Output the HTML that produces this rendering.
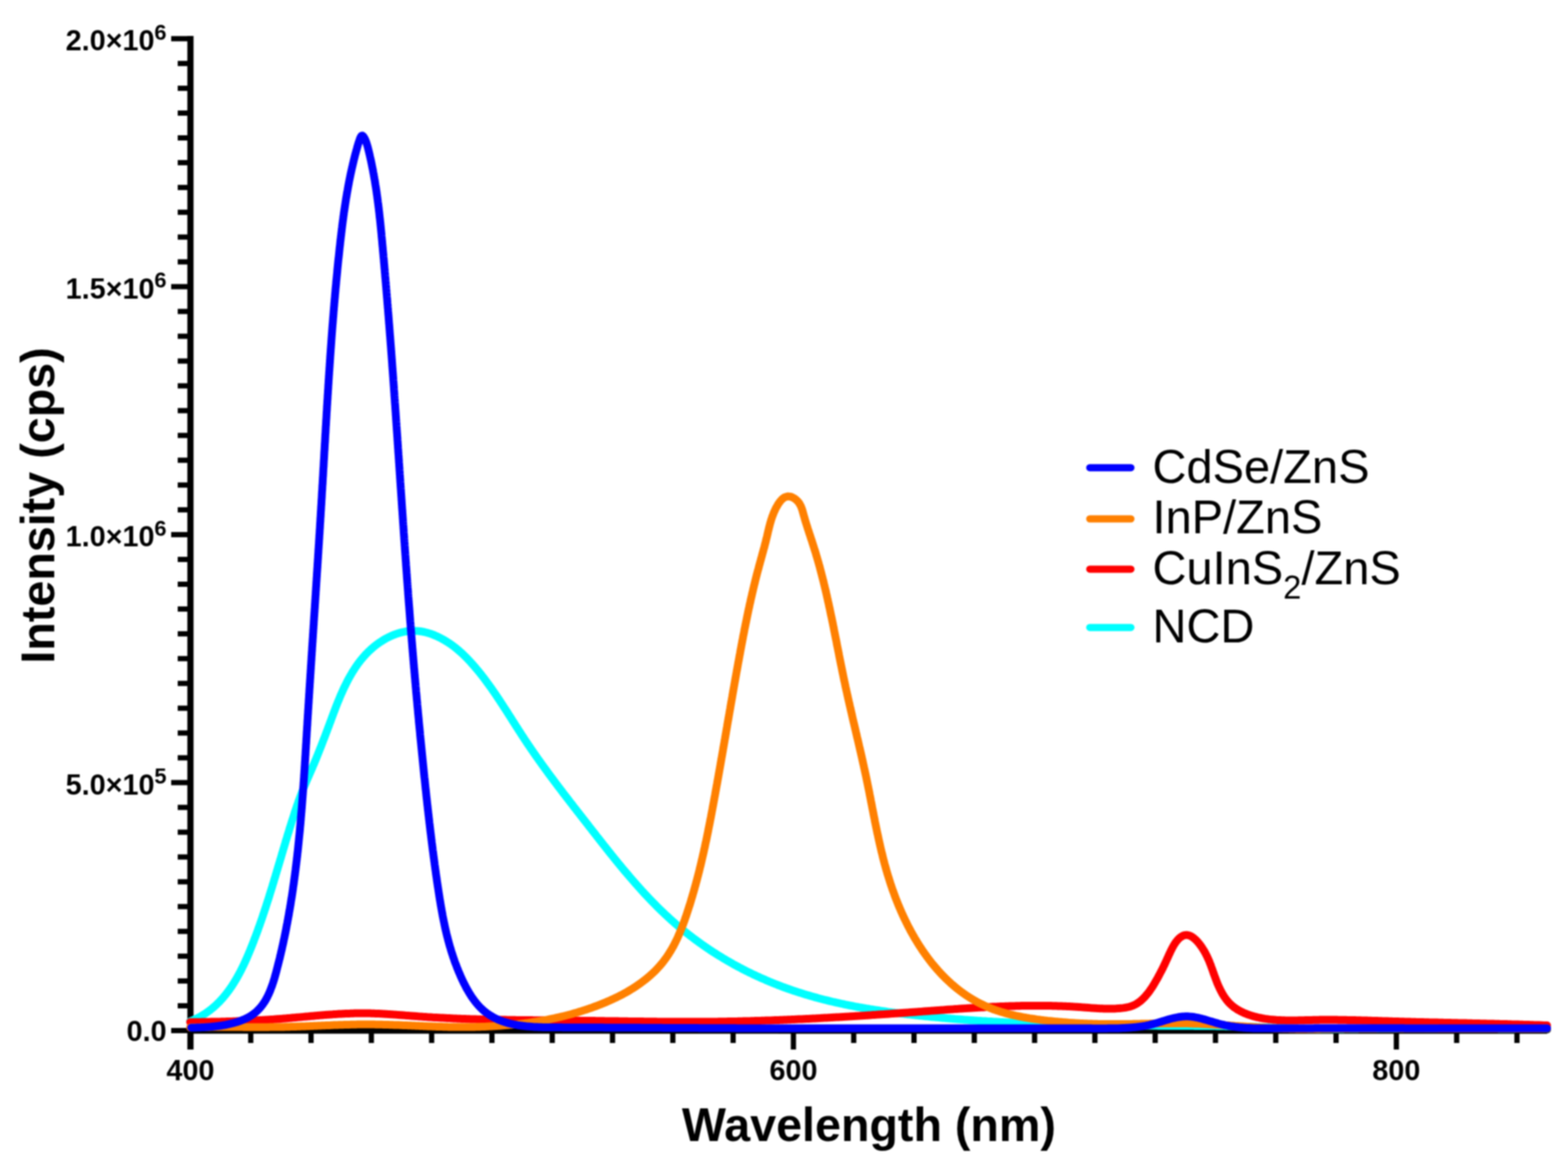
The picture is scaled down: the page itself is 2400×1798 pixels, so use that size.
<!DOCTYPE html>
<html><head><meta charset="utf-8"><title>Emission spectra</title>
<style>html,body{margin:0;padding:0;background:#fff;width:2400px;height:1798px;overflow:hidden}svg{display:block}#w{filter:blur(0.8px)}</style>
</head><body>
<div id="w">
<svg width="2400" height="1798" viewBox="0 0 2400 1798">
<style>
.tk{font-family:"Liberation Sans",Arial,sans-serif;font-weight:bold;font-size:44px;fill:#000}
.sup{font-size:33.5px}
.ttl{font-family:"Liberation Sans",Arial,sans-serif;font-weight:bold;font-size:71.4px;fill:#000}
.lg{font-family:"Liberation Sans",Arial,sans-serif;font-size:72px;fill:#000}
.sub{font-size:50px}
</style>
<rect width="2400" height="1798" fill="#fff"/>
<line x1="291.5" y1="55" x2="291.5" y2="1606" stroke="#000" stroke-width="9.5"/>
<line x1="291.5" y1="1577.0" x2="2368" y2="1577.0" stroke="#000" stroke-width="9.5"/>
<line x1="262" y1="1577.00" x2="291.5" y2="1577.00" stroke="#000" stroke-width="8"/>
<line x1="272" y1="1539.06" x2="291.5" y2="1539.06" stroke="#000" stroke-width="8"/>
<line x1="272" y1="1501.11" x2="291.5" y2="1501.11" stroke="#000" stroke-width="8"/>
<line x1="272" y1="1463.16" x2="291.5" y2="1463.16" stroke="#000" stroke-width="8"/>
<line x1="272" y1="1425.22" x2="291.5" y2="1425.22" stroke="#000" stroke-width="8"/>
<line x1="272" y1="1387.28" x2="291.5" y2="1387.28" stroke="#000" stroke-width="8"/>
<line x1="272" y1="1349.33" x2="291.5" y2="1349.33" stroke="#000" stroke-width="8"/>
<line x1="272" y1="1311.38" x2="291.5" y2="1311.38" stroke="#000" stroke-width="8"/>
<line x1="272" y1="1273.44" x2="291.5" y2="1273.44" stroke="#000" stroke-width="8"/>
<line x1="272" y1="1235.49" x2="291.5" y2="1235.49" stroke="#000" stroke-width="8"/>
<line x1="262" y1="1197.55" x2="291.5" y2="1197.55" stroke="#000" stroke-width="8"/>
<line x1="272" y1="1159.61" x2="291.5" y2="1159.61" stroke="#000" stroke-width="8"/>
<line x1="272" y1="1121.66" x2="291.5" y2="1121.66" stroke="#000" stroke-width="8"/>
<line x1="272" y1="1083.71" x2="291.5" y2="1083.71" stroke="#000" stroke-width="8"/>
<line x1="272" y1="1045.77" x2="291.5" y2="1045.77" stroke="#000" stroke-width="8"/>
<line x1="272" y1="1007.83" x2="291.5" y2="1007.83" stroke="#000" stroke-width="8"/>
<line x1="272" y1="969.88" x2="291.5" y2="969.88" stroke="#000" stroke-width="8"/>
<line x1="272" y1="931.93" x2="291.5" y2="931.93" stroke="#000" stroke-width="8"/>
<line x1="272" y1="893.99" x2="291.5" y2="893.99" stroke="#000" stroke-width="8"/>
<line x1="272" y1="856.04" x2="291.5" y2="856.04" stroke="#000" stroke-width="8"/>
<line x1="262" y1="818.10" x2="291.5" y2="818.10" stroke="#000" stroke-width="8"/>
<line x1="272" y1="780.15" x2="291.5" y2="780.15" stroke="#000" stroke-width="8"/>
<line x1="272" y1="742.21" x2="291.5" y2="742.21" stroke="#000" stroke-width="8"/>
<line x1="272" y1="704.26" x2="291.5" y2="704.26" stroke="#000" stroke-width="8"/>
<line x1="272" y1="666.32" x2="291.5" y2="666.32" stroke="#000" stroke-width="8"/>
<line x1="272" y1="628.38" x2="291.5" y2="628.38" stroke="#000" stroke-width="8"/>
<line x1="272" y1="590.43" x2="291.5" y2="590.43" stroke="#000" stroke-width="8"/>
<line x1="272" y1="552.48" x2="291.5" y2="552.48" stroke="#000" stroke-width="8"/>
<line x1="272" y1="514.54" x2="291.5" y2="514.54" stroke="#000" stroke-width="8"/>
<line x1="272" y1="476.59" x2="291.5" y2="476.59" stroke="#000" stroke-width="8"/>
<line x1="262" y1="438.65" x2="291.5" y2="438.65" stroke="#000" stroke-width="8"/>
<line x1="272" y1="400.70" x2="291.5" y2="400.70" stroke="#000" stroke-width="8"/>
<line x1="272" y1="362.76" x2="291.5" y2="362.76" stroke="#000" stroke-width="8"/>
<line x1="272" y1="324.81" x2="291.5" y2="324.81" stroke="#000" stroke-width="8"/>
<line x1="272" y1="286.87" x2="291.5" y2="286.87" stroke="#000" stroke-width="8"/>
<line x1="272" y1="248.92" x2="291.5" y2="248.92" stroke="#000" stroke-width="8"/>
<line x1="272" y1="210.98" x2="291.5" y2="210.98" stroke="#000" stroke-width="8"/>
<line x1="272" y1="173.04" x2="291.5" y2="173.04" stroke="#000" stroke-width="8"/>
<line x1="272" y1="135.09" x2="291.5" y2="135.09" stroke="#000" stroke-width="8"/>
<line x1="272" y1="97.14" x2="291.5" y2="97.14" stroke="#000" stroke-width="8"/>
<line x1="262" y1="59.20" x2="291.5" y2="59.20" stroke="#000" stroke-width="8"/>
<line x1="291.50" y1="1577.0" x2="291.50" y2="1606" stroke="#000" stroke-width="8"/>
<line x1="383.79" y1="1577.0" x2="383.79" y2="1596" stroke="#000" stroke-width="8"/>
<line x1="476.08" y1="1577.0" x2="476.08" y2="1596" stroke="#000" stroke-width="8"/>
<line x1="568.37" y1="1577.0" x2="568.37" y2="1596" stroke="#000" stroke-width="8"/>
<line x1="660.66" y1="1577.0" x2="660.66" y2="1596" stroke="#000" stroke-width="8"/>
<line x1="752.95" y1="1577.0" x2="752.95" y2="1596" stroke="#000" stroke-width="8"/>
<line x1="845.24" y1="1577.0" x2="845.24" y2="1596" stroke="#000" stroke-width="8"/>
<line x1="937.53" y1="1577.0" x2="937.53" y2="1596" stroke="#000" stroke-width="8"/>
<line x1="1029.82" y1="1577.0" x2="1029.82" y2="1596" stroke="#000" stroke-width="8"/>
<line x1="1122.11" y1="1577.0" x2="1122.11" y2="1596" stroke="#000" stroke-width="8"/>
<line x1="1214.40" y1="1577.0" x2="1214.40" y2="1606" stroke="#000" stroke-width="8"/>
<line x1="1306.69" y1="1577.0" x2="1306.69" y2="1596" stroke="#000" stroke-width="8"/>
<line x1="1398.98" y1="1577.0" x2="1398.98" y2="1596" stroke="#000" stroke-width="8"/>
<line x1="1491.27" y1="1577.0" x2="1491.27" y2="1596" stroke="#000" stroke-width="8"/>
<line x1="1583.56" y1="1577.0" x2="1583.56" y2="1596" stroke="#000" stroke-width="8"/>
<line x1="1675.85" y1="1577.0" x2="1675.85" y2="1596" stroke="#000" stroke-width="8"/>
<line x1="1768.14" y1="1577.0" x2="1768.14" y2="1596" stroke="#000" stroke-width="8"/>
<line x1="1860.43" y1="1577.0" x2="1860.43" y2="1596" stroke="#000" stroke-width="8"/>
<line x1="1952.72" y1="1577.0" x2="1952.72" y2="1596" stroke="#000" stroke-width="8"/>
<line x1="2045.01" y1="1577.0" x2="2045.01" y2="1596" stroke="#000" stroke-width="8"/>
<line x1="2137.30" y1="1577.0" x2="2137.30" y2="1606" stroke="#000" stroke-width="8"/>
<line x1="2229.59" y1="1577.0" x2="2229.59" y2="1596" stroke="#000" stroke-width="8"/>
<line x1="2321.88" y1="1577.0" x2="2321.88" y2="1596" stroke="#000" stroke-width="8"/>
<path d="M291.0,1574.7 L293.0,1574.7 L295.0,1574.7 L297.0,1574.7 L299.0,1574.7 L301.0,1574.7 L303.0,1574.7 L305.0,1574.7 L307.0,1574.7 L309.0,1574.7 L311.0,1574.7 L313.0,1574.7 L315.0,1574.7 L317.0,1574.7 L319.0,1574.7 L321.0,1574.7 L323.0,1574.7 L325.0,1574.7 L327.0,1574.7 L329.0,1574.7 L331.0,1574.7 L333.0,1574.7 L335.0,1574.7 L337.0,1574.7 L339.0,1574.7 L341.0,1574.7 L343.0,1574.7 L345.0,1574.7 L347.0,1574.7 L349.0,1574.7 L351.0,1574.7 L353.0,1574.7 L355.0,1574.7 L357.0,1574.7 L359.0,1574.7 L361.0,1574.7 L363.0,1574.7 L365.0,1574.7 L367.0,1574.7 L369.0,1574.7 L371.0,1574.7 L373.0,1574.7 L375.0,1574.7 L377.0,1574.7 L379.0,1574.7 L381.0,1574.7 L383.0,1574.7 L384.9,1574.7 L386.9,1574.7 L388.9,1574.7 L390.9,1574.7 L392.9,1574.7 L394.9,1574.7 L396.9,1574.7 L398.9,1574.7 L400.9,1574.7 L402.9,1574.7 L404.9,1574.7 L406.9,1574.7 L408.9,1574.7 L410.9,1574.7 L412.9,1574.7 L414.9,1574.7 L416.9,1574.7 L418.9,1574.7 L420.9,1574.7 L422.9,1574.7 L424.9,1574.7 L426.9,1574.7 L428.9,1574.7 L430.9,1574.7 L432.9,1574.7 L434.9,1574.7 L436.9,1574.7 L438.9,1574.7 L440.9,1574.7 L442.9,1574.7 L444.9,1574.7 L446.9,1574.7 L448.9,1574.7 L450.9,1574.7 L452.9,1574.7 L454.9,1574.8 L456.9,1574.8 L458.9,1574.8 L460.9,1574.8 L462.9,1574.8 L464.9,1574.8 L466.9,1574.8 L468.9,1574.8 L470.9,1574.8 L472.9,1574.8 L474.9,1574.8 L476.9,1574.8 L478.9,1574.8 L480.9,1574.8 L482.9,1574.8 L484.9,1574.8 L486.9,1574.8 L488.9,1574.8 L490.9,1574.8 L492.9,1574.8 L494.9,1574.8 L496.9,1574.8 L498.9,1574.8 L500.9,1574.8 L502.9,1574.8 L504.9,1574.8 L506.9,1574.8 L508.9,1574.8 L510.9,1574.8 L512.9,1574.8 L514.9,1574.8 L516.9,1574.8 L518.9,1574.8 L520.9,1574.8 L522.9,1574.8 L524.9,1574.8 L526.9,1574.8 L528.9,1574.8 L530.9,1574.8 L532.9,1574.8 L534.8,1574.8 L536.8,1574.8 L538.8,1574.8 L540.8,1574.8 L542.8,1574.8 L544.8,1574.8 L546.8,1574.8 L548.8,1574.8 L550.8,1574.8 L552.8,1574.8 L554.8,1574.8 L556.8,1574.8 L558.8,1574.8 L560.8,1574.8 L562.8,1574.8 L564.8,1574.8 L566.8,1574.8 L568.8,1574.8 L570.8,1574.8 L572.8,1574.8 L574.8,1574.8 L576.8,1574.8 L578.8,1574.8 L580.8,1574.8 L582.8,1574.8 L584.8,1574.8 L586.8,1574.8 L588.8,1574.8 L590.8,1574.9 L592.8,1574.9 L594.8,1574.9 L596.8,1574.9 L598.8,1574.9 L600.8,1574.9 L602.8,1574.9 L604.8,1574.9 L606.8,1574.9 L608.8,1574.9 L610.8,1574.9 L612.8,1574.9 L614.8,1574.9 L616.8,1574.9 L618.8,1574.9 L620.8,1574.9 L622.8,1574.9 L624.8,1574.9 L626.8,1574.9 L628.8,1574.9 L630.8,1574.9 L632.8,1574.9 L634.8,1574.9 L636.8,1574.9 L638.8,1574.9 L640.8,1574.9 L642.8,1574.9 L644.8,1574.9 L646.8,1574.9 L648.8,1574.9 L650.8,1574.9 L652.8,1574.9 L654.8,1574.9 L656.8,1574.9 L658.8,1574.9 L660.8,1574.9 L662.8,1574.9 L664.8,1574.9 L666.8,1574.9 L668.8,1574.9 L670.8,1574.9 L672.8,1574.9 L674.8,1574.9 L676.8,1574.9 L678.8,1574.9 L680.8,1574.9 L682.8,1574.9 L684.8,1574.9 L686.8,1574.9 L688.8,1574.9 L690.8,1574.9 L692.8,1574.9 L694.8,1574.9 L696.8,1574.9 L698.7,1574.9 L700.7,1574.9 L702.7,1574.9 L704.7,1574.9 L706.7,1574.9 L708.7,1574.9 L710.7,1574.9 L712.7,1574.9 L714.7,1575.0 L716.7,1575.0 L718.7,1575.0 L720.7,1575.0 L722.7,1575.0 L724.7,1575.0 L726.7,1575.0 L728.7,1575.0 L730.7,1575.0 L732.7,1575.0 L734.7,1575.0 L736.7,1575.0 L738.7,1575.0 L740.7,1575.0 L742.7,1575.0 L744.7,1575.0 L746.7,1575.0 L748.7,1575.0 L750.7,1575.0 L752.7,1575.0 L754.7,1575.0 L756.7,1575.0 L758.7,1575.0 L760.7,1575.0 L762.7,1575.0 L764.7,1575.0 L766.7,1575.0 L768.7,1575.0 L770.7,1575.0 L772.7,1575.0 L774.7,1575.0 L776.7,1575.0 L778.7,1575.0 L780.7,1575.0 L782.7,1575.0 L784.7,1575.0 L786.7,1575.0 L788.7,1575.0 L790.7,1575.0 L792.7,1575.0 L794.7,1575.0 L796.7,1575.0 L798.7,1575.0 L800.7,1575.0 L802.7,1575.0 L804.7,1575.0 L806.7,1575.0 L808.7,1575.0 L810.7,1575.0 L812.7,1575.0 L814.7,1575.0 L816.7,1575.0 L818.7,1575.0 L820.7,1575.0 L822.7,1575.0 L824.7,1575.0 L826.7,1575.0 L828.7,1575.0 L830.7,1575.0 L832.7,1575.1 L834.7,1575.1 L836.7,1575.1 L838.7,1575.1 L840.7,1575.1 L842.7,1575.1 L844.7,1575.1 L846.7,1575.1 L848.7,1575.1 L850.7,1575.1 L852.7,1575.1 L854.7,1575.1 L856.7,1575.1 L858.7,1575.1 L860.7,1575.1 L862.7,1575.1 L864.7,1575.1 L866.7,1575.1 L868.7,1575.1 L870.7,1575.1 L872.7,1575.1 L874.7,1575.1 L876.7,1575.1 L878.7,1575.1 L880.7,1575.1 L882.7,1575.1 L884.6,1575.1 L886.6,1575.1 L888.6,1575.1 L890.6,1575.1 L892.6,1575.1 L894.6,1575.1 L896.6,1575.1 L898.6,1575.1 L900.6,1575.1 L902.6,1575.1 L904.6,1575.1 L906.6,1575.1 L908.6,1575.1 L910.6,1575.1 L912.6,1575.1 L914.6,1575.1 L916.6,1575.1 L918.6,1575.1 L920.6,1575.1 L922.6,1575.1 L924.6,1575.1 L926.6,1575.1 L928.6,1575.1 L930.6,1575.1 L932.6,1575.1 L934.6,1575.1 L936.6,1575.1 L938.6,1575.1 L940.6,1575.1 L942.6,1575.1 L944.6,1575.1 L946.6,1575.1 L948.6,1575.2 L950.6,1575.2 L952.6,1575.2 L954.6,1575.2 L956.6,1575.2 L958.6,1575.2 L960.6,1575.2 L962.6,1575.2 L964.6,1575.2 L966.6,1575.2 L968.6,1575.2 L970.6,1575.2 L972.6,1575.2 L974.6,1575.2 L976.6,1575.2 L978.6,1575.2 L980.6,1575.2 L982.6,1575.2 L984.6,1575.2 L986.6,1575.2 L988.6,1575.2 L990.6,1575.2 L992.6,1575.2 L994.6,1575.2 L996.6,1575.2 L998.6,1575.2 L1000.6,1575.2 L1002.6,1575.2 L1004.6,1575.2 L1006.6,1575.2 L1008.6,1575.2 L1010.6,1575.2 L1012.6,1575.2 L1014.6,1575.2 L1016.6,1575.2 L1018.6,1575.2 L1020.6,1575.2 L1022.6,1575.2 L1024.6,1575.2 L1026.6,1575.2 L1028.6,1575.2 L1030.6,1575.2 L1032.6,1575.2 L1034.6,1575.2 L1036.6,1575.2 L1038.6,1575.2 L1040.6,1575.2 L1042.6,1575.2 L1044.6,1575.2 L1046.6,1575.2 L1048.6,1575.2 L1050.6,1575.2 L1052.6,1575.2 L1054.6,1575.2 L1056.6,1575.2 L1058.6,1575.2 L1060.6,1575.2 L1062.6,1575.2 L1064.6,1575.2 L1066.6,1575.3 L1068.6,1575.3 L1070.6,1575.3 L1072.6,1575.3 L1074.6,1575.3 L1076.6,1575.3 L1078.6,1575.3 L1080.6,1575.3 L1082.6,1575.3 L1084.6,1575.3 L1086.6,1575.3 L1088.6,1575.3 L1090.5,1575.3 L1092.5,1575.3 L1094.5,1575.3 L1096.5,1575.3 L1098.5,1575.3 L1100.5,1575.3 L1102.5,1575.3 L1104.5,1575.3 L1106.5,1575.3 L1108.5,1575.3 L1110.5,1575.3 L1112.5,1575.3 L1114.5,1575.3 L1116.5,1575.3 L1118.5,1575.3 L1120.5,1575.3 L1122.5,1575.3 L1124.5,1575.3 L1126.5,1575.3 L1128.5,1575.3 L1130.5,1575.3 L1132.5,1575.3 L1134.5,1575.3 L1136.5,1575.3 L1138.5,1575.3 L1140.5,1575.3 L1142.5,1575.3 L1144.5,1575.3 L1146.5,1575.3 L1148.5,1575.3 L1150.5,1575.3 L1152.5,1575.3 L1154.5,1575.3 L1156.5,1575.3 L1158.5,1575.3 L1160.5,1575.3 L1162.5,1575.3 L1164.5,1575.3 L1166.5,1575.3 L1168.5,1575.3 L1170.5,1575.3 L1172.5,1575.3 L1174.5,1575.3 L1176.5,1575.3 L1178.5,1575.3 L1180.5,1575.3 L1182.5,1575.3 L1184.5,1575.3 L1186.5,1575.3 L1188.5,1575.3 L1190.5,1575.3 L1192.5,1575.4 L1194.5,1575.4 L1196.5,1575.4 L1198.5,1575.4 L1200.5,1575.4 L1202.5,1575.4 L1204.5,1575.4 L1206.5,1575.4 L1208.5,1575.4 L1210.5,1575.4 L1212.5,1575.4 L1214.5,1575.4 L1216.5,1575.4 L1218.5,1575.4 L1220.5,1575.4 L1222.5,1575.4 L1224.5,1575.4 L1226.5,1575.4 L1228.5,1575.4 L1230.5,1575.4 L1232.5,1575.4 L1234.5,1575.4 L1236.5,1575.4 L1238.5,1575.4 L1240.5,1575.4 L1242.5,1575.4 L1244.5,1575.4 L1246.5,1575.4 L1248.5,1575.4 L1250.5,1575.4 L1252.5,1575.4 L1254.5,1575.4 L1256.5,1575.4 L1258.5,1575.4 L1260.5,1575.4 L1262.5,1575.4 L1264.5,1575.4 L1266.5,1575.4 L1268.5,1575.4 L1270.5,1575.4 L1272.5,1575.4 L1274.5,1575.4 L1276.5,1575.4 L1278.5,1575.4 L1280.5,1575.4 L1282.5,1575.4 L1284.5,1575.4 L1286.5,1575.4 L1288.5,1575.4 L1290.5,1575.4 L1292.5,1575.4 L1294.5,1575.4 L1296.5,1575.4 L1298.5,1575.4 L1300.5,1575.4 L1302.5,1575.4 L1304.5,1575.4 L1306.5,1575.4 L1308.5,1575.4 L1310.5,1575.4 L1312.5,1575.4 L1314.5,1575.4 L1316.5,1575.4 L1318.4,1575.4 L1320.4,1575.4 L1322.4,1575.4 L1324.4,1575.4 L1326.4,1575.4 L1328.4,1575.4 L1330.4,1575.5 L1332.4,1575.5 L1334.4,1575.5 L1336.4,1575.5 L1338.4,1575.5 L1340.4,1575.5 L1342.4,1575.5 L1344.4,1575.5 L1346.4,1575.5 L1348.4,1575.5 L1350.4,1575.5 L1352.4,1575.5 L1354.4,1575.5 L1356.4,1575.5 L1358.4,1575.5 L1360.4,1575.5 L1362.4,1575.5 L1364.4,1575.5 L1366.4,1575.5 L1368.4,1575.5 L1370.4,1575.5 L1372.4,1575.5 L1374.4,1575.5 L1376.4,1575.5 L1378.4,1575.5 L1380.4,1575.5 L1382.4,1575.5 L1384.4,1575.5 L1386.4,1575.5 L1388.4,1575.5 L1390.4,1575.5 L1392.4,1575.5 L1394.4,1575.5 L1396.4,1575.5 L1398.4,1575.5 L1400.4,1575.5 L1402.4,1575.5 L1404.4,1575.5 L1406.4,1575.5 L1408.4,1575.5 L1410.4,1575.5 L1412.4,1575.5 L1414.4,1575.5 L1416.4,1575.5 L1418.4,1575.5 L1420.4,1575.5 L1422.4,1575.5 L1424.4,1575.5 L1426.4,1575.5 L1428.4,1575.5 L1430.4,1575.5 L1432.4,1575.5 L1434.4,1575.5 L1436.4,1575.5 L1438.4,1575.5 L1440.4,1575.5 L1442.4,1575.5 L1444.4,1575.5 L1446.4,1575.5 L1448.4,1575.5 L1450.4,1575.5 L1452.4,1575.5 L1454.4,1575.5 L1456.4,1575.5 L1458.4,1575.5 L1460.4,1575.5 L1462.4,1575.5 L1464.4,1575.5 L1466.4,1575.5 L1468.4,1575.5 L1470.4,1575.5 L1472.4,1575.5 L1474.4,1575.5 L1476.4,1575.5 L1478.4,1575.5 L1480.4,1575.5 L1482.4,1575.5 L1484.4,1575.5 L1486.4,1575.5 L1488.4,1575.5 L1490.4,1575.5 L1492.4,1575.5 L1494.4,1575.5 L1496.4,1575.5 L1498.4,1575.5 L1500.4,1575.5 L1502.4,1575.5 L1504.4,1575.6 L1506.4,1575.6 L1508.4,1575.6 L1510.4,1575.6 L1512.4,1575.6 L1514.4,1575.6 L1516.4,1575.6 L1518.4,1575.6 L1520.4,1575.6 L1522.4,1575.6 L1524.4,1575.6 L1526.4,1575.6 L1528.4,1575.6 L1530.4,1575.6 L1532.4,1575.6 L1534.4,1575.6 L1536.4,1575.6 L1538.4,1575.6 L1540.4,1575.6 L1542.4,1575.6 L1544.4,1575.6 L1546.4,1575.6 L1548.4,1575.6 L1550.4,1575.6 L1552.4,1575.6 L1554.4,1575.6 L1556.4,1575.6 L1558.4,1575.6 L1560.3,1575.6 L1562.3,1575.6 L1564.3,1575.6 L1566.3,1575.6 L1568.3,1575.6 L1570.3,1575.6 L1572.3,1575.6 L1574.3,1575.6 L1576.3,1575.6 L1578.3,1575.6 L1580.3,1575.6 L1582.3,1575.6 L1584.3,1575.6 L1586.3,1575.6 L1588.3,1575.6 L1590.3,1575.6 L1592.3,1575.6 L1594.3,1575.6 L1596.3,1575.6 L1598.3,1575.6 L1600.3,1575.6 L1602.3,1575.6 L1604.3,1575.6 L1606.3,1575.6 L1608.3,1575.6 L1610.3,1575.6 L1612.3,1575.6 L1614.3,1575.6 L1616.3,1575.6 L1618.3,1575.6 L1620.3,1575.6 L1622.3,1575.6 L1624.3,1575.6 L1626.3,1575.6 L1628.3,1575.6 L1630.3,1575.6 L1632.3,1575.6 L1634.3,1575.6 L1636.3,1575.6 L1638.3,1575.6 L1640.3,1575.6 L1642.3,1575.6 L1644.3,1575.6 L1646.3,1575.6 L1648.3,1575.6 L1650.3,1575.6 L1652.3,1575.6 L1654.3,1575.6 L1656.3,1575.6 L1658.3,1575.6 L1660.3,1575.6 L1662.3,1575.6 L1664.3,1575.6 L1666.3,1575.6 L1668.3,1575.6 L1670.3,1575.6 L1672.3,1575.6 L1674.3,1575.6 L1676.3,1575.6 L1678.3,1575.6 L1680.3,1575.6 L1682.3,1575.6 L1684.3,1575.6 L1686.3,1575.6 L1688.3,1575.6 L1690.3,1575.6 L1692.3,1575.6 L1694.3,1575.6 L1696.3,1575.6 L1698.3,1575.6 L1700.3,1575.6 L1702.3,1575.6 L1704.3,1575.6 L1706.3,1575.6 L1708.3,1575.6 L1710.3,1575.6 L1712.3,1575.6 L1714.3,1575.6 L1716.3,1575.6 L1718.3,1575.6 L1720.3,1575.6 L1722.3,1575.6 L1724.3,1575.6 L1726.3,1575.6 L1728.3,1575.6 L1730.3,1575.6 L1732.3,1575.6 L1734.3,1575.6 L1736.3,1575.6 L1738.3,1575.6 L1740.3,1575.6 L1742.3,1575.6 L1744.3,1575.6 L1746.3,1575.6 L1748.3,1575.6 L1750.3,1575.6 L1752.3,1575.6 L1754.3,1575.6 L1756.3,1575.6 L1758.3,1575.6 L1760.3,1575.6 L1762.3,1575.6 L1764.3,1575.6 L1766.3,1575.6 L1768.3,1575.6 L1770.3,1575.6 L1772.3,1575.6 L1774.3,1575.6 L1776.3,1575.6 L1778.3,1575.6 L1780.3,1575.6 L1782.3,1575.6 L1784.3,1575.6 L1786.3,1575.6 L1788.3,1575.6 L1790.3,1575.6 L1792.3,1575.6 L1794.3,1575.6 L1796.3,1575.6 L1798.3,1575.6 L1800.3,1575.6 L1802.3,1575.6 L1804.2,1575.6 L1806.2,1575.6 L1808.2,1575.6 L1810.2,1575.6 L1812.2,1575.6 L1814.2,1575.6 L1816.2,1575.6 L1818.2,1575.6 L1820.2,1575.6 L1822.2,1575.6 L1824.2,1575.6 L1826.2,1575.6 L1828.2,1575.6 L1830.2,1575.6 L1832.2,1575.6 L1834.2,1575.6 L1836.2,1575.6 L1838.2,1575.6 L1840.2,1575.6 L1842.2,1575.6 L1844.2,1575.6 L1846.2,1575.6 L1848.2,1575.6 L1850.2,1575.6 L1852.2,1575.6 L1854.2,1575.6 L1856.2,1575.6 L1858.2,1575.6 L1860.2,1575.6 L1862.2,1575.6 L1864.2,1575.6 L1866.2,1575.6 L1868.2,1575.6 L1870.2,1575.6 L1872.2,1575.6 L1874.2,1575.6 L1876.2,1575.6 L1878.2,1575.6 L1880.2,1575.6 L1882.2,1575.6 L1884.2,1575.6 L1886.2,1575.6 L1888.2,1575.6 L1890.2,1575.6 L1892.2,1575.6 L1894.2,1575.6 L1896.2,1575.6 L1898.2,1575.6 L1900.2,1575.6 L1902.2,1575.6 L1904.2,1575.6 L1906.2,1575.6 L1908.2,1575.6 L1910.2,1575.6 L1912.2,1575.6 L1914.2,1575.6 L1916.2,1575.6 L1918.2,1575.6 L1920.2,1575.6 L1922.2,1575.6 L1924.2,1575.6 L1926.2,1575.6 L1928.2,1575.6 L1930.2,1575.6 L1932.2,1575.6 L1934.2,1575.6 L1936.2,1575.6 L1938.2,1575.6 L1940.2,1575.6 L1942.2,1575.6 L1944.2,1575.6 L1946.2,1575.6 L1948.2,1575.6 L1950.2,1575.6 L1952.2,1575.6 L1954.2,1575.6 L1956.2,1575.6 L1958.2,1575.6 L1960.2,1575.6 L1962.2,1575.6 L1964.2,1575.6 L1966.2,1575.6 L1968.2,1575.6 L1970.2,1575.6 L1972.2,1575.6 L1974.2,1575.6 L1976.2,1575.6 L1978.2,1575.6 L1980.2,1575.6 L1982.2,1575.6 L1984.2,1575.6 L1986.2,1575.6 L1988.2,1575.6 L1990.2,1575.6 L1992.2,1575.6 L1994.2,1575.6 L1996.2,1575.6 L1998.2,1575.6 L2000.2,1575.6 L2002.2,1575.6 L2004.2,1575.6 L2006.2,1575.6 L2008.2,1575.6 L2010.2,1575.6 L2012.2,1575.6 L2014.2,1575.6 L2016.2,1575.6 L2018.2,1575.6 L2020.2,1575.6 L2022.2,1575.6 L2024.2,1575.6 L2026.2,1575.6 L2028.2,1575.6 L2030.2,1575.6 L2032.2,1575.6 L2034.2,1575.6 L2036.1,1575.6 L2038.1,1575.6 L2040.1,1575.6 L2042.1,1575.6 L2044.1,1575.6 L2046.1,1575.6 L2048.1,1575.6 L2050.1,1575.6 L2052.1,1575.6 L2054.1,1575.6 L2056.1,1575.6 L2058.1,1575.6 L2060.1,1575.6 L2062.1,1575.6 L2064.1,1575.6 L2066.1,1575.6 L2068.1,1575.6 L2070.1,1575.6 L2072.1,1575.6 L2074.1,1575.6 L2076.1,1575.6 L2078.1,1575.6 L2080.1,1575.6 L2082.1,1575.6 L2084.1,1575.6 L2086.1,1575.6 L2088.1,1575.6 L2090.1,1575.6 L2092.1,1575.6 L2094.1,1575.6 L2096.1,1575.5 L2098.1,1575.5 L2100.1,1575.5 L2102.1,1575.5 L2104.1,1575.5 L2106.1,1575.5 L2108.1,1575.5 L2110.1,1575.5 L2112.1,1575.5 L2114.1,1575.5 L2116.1,1575.5 L2118.1,1575.5 L2120.1,1575.5 L2122.1,1575.5 L2124.1,1575.5 L2126.1,1575.5 L2128.1,1575.5 L2130.1,1575.5 L2132.1,1575.5 L2134.1,1575.5 L2136.1,1575.5 L2138.1,1575.5 L2140.1,1575.5 L2142.1,1575.5 L2144.1,1575.5 L2146.1,1575.5 L2148.1,1575.5 L2150.1,1575.5 L2152.1,1575.5 L2154.1,1575.5 L2156.1,1575.5 L2158.1,1575.5 L2160.1,1575.5 L2162.1,1575.5 L2164.1,1575.5 L2166.1,1575.5 L2168.1,1575.5 L2170.1,1575.5 L2172.1,1575.5 L2174.1,1575.5 L2176.1,1575.5 L2178.1,1575.5 L2180.1,1575.5 L2182.1,1575.5 L2184.1,1575.5 L2186.1,1575.5 L2188.1,1575.5 L2190.1,1575.5 L2192.1,1575.5 L2194.1,1575.5 L2196.1,1575.5 L2198.1,1575.5 L2200.1,1575.5 L2202.1,1575.5 L2204.1,1575.5 L2206.1,1575.5 L2208.1,1575.5 L2210.1,1575.5 L2212.1,1575.5 L2214.1,1575.5 L2216.1,1575.5 L2218.1,1575.5 L2220.1,1575.5 L2222.1,1575.5 L2224.1,1575.5 L2226.1,1575.5 L2228.1,1575.4 L2230.1,1575.4 L2232.1,1575.4 L2234.1,1575.4 L2236.1,1575.4 L2238.1,1575.4 L2240.1,1575.4 L2242.1,1575.4 L2244.1,1575.4 L2246.1,1575.4 L2248.1,1575.4 L2250.0,1575.4 L2252.0,1575.4 L2254.0,1575.4 L2256.0,1575.4 L2258.0,1575.4 L2260.0,1575.4 L2262.0,1575.4 L2264.0,1575.4 L2266.0,1575.4 L2268.0,1575.4 L2270.0,1575.4 L2272.0,1575.4 L2274.0,1575.4 L2276.0,1575.4 L2278.0,1575.4 L2280.0,1575.4 L2282.0,1575.4 L2284.0,1575.4 L2286.0,1575.4 L2288.0,1575.4 L2290.0,1575.4 L2292.0,1575.4 L2294.0,1575.4 L2296.0,1575.4 L2298.0,1575.4 L2300.0,1575.4 L2302.0,1575.4 L2304.0,1575.4 L2306.0,1575.4 L2308.0,1575.4 L2310.0,1575.4 L2312.0,1575.4 L2314.0,1575.4 L2316.0,1575.4 L2318.0,1575.4 L2320.0,1575.4 L2322.0,1575.3 L2324.0,1575.3 L2326.0,1575.3 L2328.0,1575.3 L2330.0,1575.3 L2332.0,1575.3 L2334.0,1575.3 L2336.0,1575.3 L2338.0,1575.3 L2340.0,1575.3 L2342.0,1575.3 L2344.0,1575.3 L2346.0,1575.3 L2348.0,1575.3 L2350.0,1575.3 L2352.0,1575.3 L2354.0,1575.3 L2356.0,1575.3 L2358.0,1575.3 L2360.0,1575.3 L2362.0,1575.3 L2364.0,1575.3 L2366.0,1575.3 L2368.0,1575.3" fill="none" stroke="#000000" stroke-width="12" stroke-linecap="round" stroke-linejoin="round"/>
<path d="M291.0,1562.8 L292.9,1562.0 L294.9,1561.2 L296.8,1560.4 L298.6,1559.6 L300.5,1558.7 L302.3,1557.8 L304.1,1556.9 L305.9,1555.9 L307.6,1554.9 L309.3,1553.9 L311.0,1552.9 L312.7,1551.8 L314.4,1550.8 L316.0,1549.7 L317.6,1548.5 L319.2,1547.4 L320.8,1546.2 L322.3,1545.0 L323.9,1543.8 L325.4,1542.5 L326.9,1541.3 L328.3,1540.0 L329.8,1538.7 L331.2,1537.4 L332.6,1536.0 L334.0,1534.6 L335.4,1533.3 L336.7,1531.9 L338.1,1530.4 L339.4,1529.0 L340.7,1527.5 L342.0,1526.1 L343.2,1524.6 L344.5,1523.0 L345.7,1521.5 L346.9,1520.0 L348.1,1518.4 L349.3,1516.8 L350.5,1515.3 L351.6,1513.7 L352.7,1512.0 L353.9,1510.4 L355.0,1508.8 L356.0,1507.1 L357.1,1505.4 L358.2,1503.7 L359.2,1502.0 L360.3,1500.3 L361.3,1498.6 L362.3,1496.9 L363.3,1495.1 L364.3,1493.4 L365.2,1491.6 L366.2,1489.9 L367.1,1488.1 L368.1,1486.3 L369.0,1484.5 L369.9,1482.7 L370.8,1480.9 L371.7,1479.0 L372.6,1477.2 L373.5,1475.4 L374.3,1473.5 L375.2,1471.7 L376.0,1469.8 L376.9,1468.0 L377.7,1466.1 L378.5,1464.3 L379.3,1462.4 L380.1,1460.5 L380.9,1458.6 L381.7,1456.7 L382.5,1454.9 L383.2,1453.0 L384.0,1451.1 L384.8,1449.2 L385.5,1447.3 L386.3,1445.4 L387.0,1443.5 L387.8,1441.6 L388.5,1439.7 L389.2,1437.8 L389.9,1435.9 L390.7,1434.0 L391.4,1432.2 L392.1,1430.3 L392.8,1428.4 L393.5,1426.5 L394.2,1424.6 L394.9,1422.7 L395.5,1420.8 L396.2,1418.9 L396.9,1417.0 L397.6,1415.1 L398.2,1413.2 L398.9,1411.3 L399.6,1409.4 L400.2,1407.5 L400.9,1405.6 L401.5,1403.7 L402.2,1401.8 L402.8,1399.9 L403.4,1398.0 L404.1,1396.1 L404.7,1394.2 L405.3,1392.3 L406.0,1390.5 L406.6,1388.6 L407.2,1386.7 L407.8,1384.8 L408.4,1382.9 L409.0,1381.0 L409.6,1379.1 L410.3,1377.2 L410.9,1375.3 L411.5,1373.4 L412.1,1371.5 L412.6,1369.6 L413.2,1367.7 L413.8,1365.8 L414.4,1363.9 L415.0,1362.0 L415.6,1360.1 L416.2,1358.2 L416.8,1356.3 L417.3,1354.4 L417.9,1352.5 L418.5,1350.6 L419.1,1348.7 L419.6,1346.8 L420.2,1344.9 L420.8,1343.0 L421.4,1341.1 L421.9,1339.2 L422.5,1337.3 L423.1,1335.4 L423.6,1333.5 L424.2,1331.6 L424.8,1329.7 L425.3,1327.8 L425.9,1325.9 L426.5,1324.0 L427.0,1322.1 L427.6,1320.2 L428.2,1318.3 L428.7,1316.4 L429.3,1314.5 L429.9,1312.6 L430.4,1310.7 L431.0,1308.8 L431.5,1306.9 L432.1,1305.0 L432.7,1303.1 L433.2,1301.2 L433.8,1299.3 L434.4,1297.4 L435.0,1295.5 L435.5,1293.6 L436.1,1291.7 L436.7,1289.8 L437.2,1287.8 L437.8,1285.9 L438.4,1284.0 L439.0,1282.1 L439.5,1280.2 L440.1,1278.3 L440.7,1276.4 L441.3,1274.5 L441.9,1272.6 L442.5,1270.7 L443.0,1268.8 L443.6,1266.9 L444.2,1265.0 L444.8,1263.1 L445.4,1261.2 L446.0,1259.3 L446.6,1257.4 L447.2,1255.5 L447.8,1253.6 L448.5,1251.7 L449.1,1249.8 L449.7,1247.9 L450.3,1246.0 L450.9,1244.0 L451.5,1242.1 L452.2,1240.2 L452.8,1238.3 L453.5,1236.4 L454.1,1234.5 L454.7,1232.6 L455.4,1230.7 L456.1,1228.8 L456.7,1226.9 L457.4,1225.0 L458.1,1223.2 L458.8,1221.3 L459.5,1219.4 L460.2,1217.5 L460.9,1215.6 L461.6,1213.7 L462.3,1211.9 L463.0,1210.0 L463.8,1208.1 L464.5,1206.2 L465.3,1204.4 L466.0,1202.5 L466.8,1200.7 L467.6,1198.8 L468.4,1197.0 L469.2,1195.1 L470.0,1193.3 L470.8,1191.4 L471.6,1189.6 L472.4,1187.8 L473.2,1185.9 L474.0,1184.1 L474.8,1182.3 L475.6,1180.4 L476.4,1178.6 L477.2,1176.8 L478.0,1175.0 L478.7,1173.1 L479.5,1171.3 L480.3,1169.5 L481.1,1167.7 L481.8,1165.8 L482.6,1164.0 L483.3,1162.2 L484.1,1160.4 L484.8,1158.5 L485.6,1156.7 L486.3,1154.9 L487.0,1153.1 L487.8,1151.2 L488.5,1149.4 L489.2,1147.6 L489.9,1145.7 L490.7,1143.9 L491.4,1142.1 L492.1,1140.2 L492.8,1138.4 L493.5,1136.6 L494.2,1134.7 L494.9,1132.9 L495.6,1131.0 L496.4,1129.2 L497.1,1127.4 L497.8,1125.5 L498.5,1123.7 L499.2,1121.8 L499.9,1119.9 L500.6,1118.1 L501.3,1116.2 L502.0,1114.3 L502.7,1112.5 L503.4,1110.6 L504.1,1108.7 L504.8,1106.8 L505.5,1105.0 L506.2,1103.1 L506.9,1101.2 L507.6,1099.3 L508.3,1097.4 L509.0,1095.5 L509.7,1093.6 L510.4,1091.7 L511.1,1089.8 L511.9,1087.9 L512.6,1086.0 L513.3,1084.1 L514.0,1082.2 L514.8,1080.3 L515.5,1078.4 L516.3,1076.5 L517.0,1074.6 L517.8,1072.8 L518.6,1070.9 L519.4,1069.0 L520.1,1067.1 L520.9,1065.3 L521.7,1063.4 L522.5,1061.5 L523.4,1059.7 L524.2,1057.8 L525.0,1056.0 L525.9,1054.1 L526.7,1052.3 L527.6,1050.5 L528.5,1048.7 L529.4,1046.9 L530.3,1045.1 L531.2,1043.3 L532.1,1041.5 L533.1,1039.7 L534.0,1037.9 L535.0,1036.2 L536.0,1034.4 L537.0,1032.7 L538.0,1031.0 L539.0,1029.3 L540.0,1027.6 L541.1,1025.9 L542.2,1024.2 L543.2,1022.6 L544.3,1020.9 L545.5,1019.3 L546.6,1017.7 L547.7,1016.0 L548.9,1014.5 L550.1,1012.9 L551.3,1011.3 L552.5,1009.8 L553.8,1008.2 L555.1,1006.7 L556.3,1005.2 L557.7,1003.8 L559.0,1002.3 L560.3,1000.8 L561.7,999.4 L563.1,998.0 L564.5,996.6 L565.9,995.3 L567.4,993.9 L568.9,992.6 L570.4,991.3 L571.9,990.0 L573.5,988.7 L575.0,987.5 L576.6,986.3 L578.2,985.1 L579.9,983.9 L581.5,982.8 L583.2,981.7 L584.9,980.6 L586.6,979.5 L588.3,978.5 L590.0,977.5 L591.8,976.5 L593.6,975.6 L595.3,974.7 L597.1,973.9 L598.9,973.0 L600.8,972.3 L602.6,971.5 L604.5,970.8 L606.3,970.1 L608.2,969.5 L610.1,968.9 L612.0,968.4 L613.9,967.8 L615.8,967.4 L617.7,967.0 L619.6,966.6 L621.6,966.3 L623.5,966.0 L625.4,965.8 L627.4,965.6 L629.3,965.4 L631.3,965.4 L633.3,965.3 L635.2,965.4 L637.2,965.4 L639.2,965.6 L641.1,965.8 L643.1,966.0 L645.1,966.3 L647.0,966.6 L649.0,967.0 L651.0,967.5 L652.9,968.0 L654.9,968.5 L656.8,969.1 L658.8,969.7 L660.7,970.4 L662.7,971.1 L664.6,971.9 L666.5,972.7 L668.4,973.5 L670.3,974.4 L672.1,975.3 L674.0,976.2 L675.9,977.2 L677.7,978.2 L679.5,979.2 L681.3,980.3 L683.1,981.4 L684.8,982.5 L686.6,983.6 L688.3,984.7 L690.0,985.9 L691.7,987.1 L693.3,988.3 L694.9,989.5 L696.6,990.8 L698.1,992.0 L699.7,993.3 L701.2,994.6 L702.7,995.9 L704.2,997.2 L705.7,998.5 L707.2,999.9 L708.6,1001.2 L710.0,1002.6 L711.4,1003.9 L712.8,1005.3 L714.2,1006.7 L715.6,1008.1 L716.9,1009.6 L718.3,1011.0 L719.6,1012.4 L720.9,1013.9 L722.2,1015.3 L723.5,1016.8 L724.8,1018.3 L726.1,1019.7 L727.4,1021.2 L728.7,1022.7 L729.9,1024.2 L731.2,1025.8 L732.5,1027.3 L733.7,1028.8 L734.9,1030.3 L736.2,1031.9 L737.4,1033.4 L738.6,1035.0 L739.8,1036.6 L741.0,1038.1 L742.2,1039.7 L743.4,1041.3 L744.6,1042.9 L745.7,1044.5 L746.9,1046.1 L748.1,1047.7 L749.2,1049.3 L750.4,1050.9 L751.6,1052.5 L752.7,1054.1 L753.8,1055.8 L755.0,1057.4 L756.1,1059.1 L757.2,1060.7 L758.4,1062.3 L759.5,1064.0 L760.6,1065.7 L761.7,1067.3 L762.8,1069.0 L763.9,1070.6 L765.0,1072.3 L766.1,1074.0 L767.2,1075.7 L768.3,1077.3 L769.4,1079.0 L770.5,1080.7 L771.6,1082.4 L772.7,1084.1 L773.8,1085.7 L774.9,1087.4 L776.0,1089.1 L777.0,1090.8 L778.1,1092.5 L779.2,1094.2 L780.3,1095.9 L781.4,1097.6 L782.4,1099.3 L783.5,1101.0 L784.6,1102.7 L785.7,1104.4 L786.8,1106.1 L787.8,1107.8 L788.9,1109.5 L790.0,1111.2 L791.1,1112.9 L792.2,1114.5 L793.2,1116.2 L794.3,1117.9 L795.4,1119.6 L796.5,1121.3 L797.6,1123.0 L798.7,1124.7 L799.8,1126.4 L800.9,1128.0 L802.0,1129.7 L803.1,1131.4 L804.2,1133.1 L805.3,1134.7 L806.4,1136.4 L807.5,1138.0 L808.6,1139.7 L809.8,1141.4 L810.9,1143.0 L812.0,1144.7 L813.1,1146.3 L814.3,1148.0 L815.4,1149.6 L816.5,1151.3 L817.7,1152.9 L818.8,1154.5 L819.9,1156.2 L821.1,1157.8 L822.2,1159.4 L823.4,1161.1 L824.5,1162.7 L825.7,1164.3 L826.9,1165.9 L828.0,1167.6 L829.2,1169.2 L830.3,1170.8 L831.5,1172.4 L832.7,1174.0 L833.8,1175.6 L835.0,1177.2 L836.2,1178.8 L837.4,1180.4 L838.5,1182.1 L839.7,1183.7 L840.9,1185.3 L842.1,1186.9 L843.3,1188.5 L844.4,1190.1 L845.6,1191.6 L846.8,1193.2 L848.0,1194.8 L849.2,1196.4 L850.4,1198.0 L851.6,1199.6 L852.8,1201.2 L854.0,1202.8 L855.2,1204.4 L856.4,1206.0 L857.6,1207.5 L858.8,1209.1 L860.0,1210.7 L861.2,1212.3 L862.4,1213.9 L863.6,1215.4 L864.8,1217.0 L866.0,1218.6 L867.3,1220.2 L868.5,1221.8 L869.7,1223.3 L870.9,1224.9 L872.1,1226.5 L873.3,1228.1 L874.6,1229.6 L875.8,1231.2 L877.0,1232.8 L878.2,1234.4 L879.4,1235.9 L880.7,1237.5 L881.9,1239.1 L883.1,1240.7 L884.3,1242.2 L885.6,1243.8 L886.8,1245.4 L888.0,1247.0 L889.2,1248.5 L890.5,1250.1 L891.7,1251.7 L892.9,1253.2 L894.1,1254.8 L895.4,1256.4 L896.6,1258.0 L897.8,1259.5 L899.1,1261.1 L900.3,1262.7 L901.5,1264.3 L902.7,1265.9 L904.0,1267.4 L905.2,1269.0 L906.4,1270.6 L907.7,1272.2 L908.9,1273.7 L910.1,1275.3 L911.4,1276.9 L912.6,1278.5 L913.8,1280.1 L915.1,1281.6 L916.3,1283.2 L917.5,1284.8 L918.8,1286.4 L920.0,1288.0 L921.3,1289.5 L922.5,1291.1 L923.7,1292.7 L925.0,1294.3 L926.2,1295.8 L927.5,1297.4 L928.7,1299.0 L930.0,1300.5 L931.2,1302.1 L932.5,1303.7 L933.7,1305.3 L935.0,1306.8 L936.2,1308.4 L937.5,1309.9 L938.7,1311.5 L940.0,1313.1 L941.3,1314.6 L942.5,1316.2 L943.8,1317.7 L945.1,1319.3 L946.3,1320.9 L947.6,1322.4 L948.9,1324.0 L950.2,1325.5 L951.4,1327.0 L952.7,1328.6 L954.0,1330.1 L955.3,1331.7 L956.6,1333.2 L957.9,1334.7 L959.2,1336.3 L960.5,1337.8 L961.8,1339.3 L963.1,1340.9 L964.4,1342.4 L965.7,1343.9 L967.0,1345.4 L968.3,1346.9 L969.6,1348.4 L970.9,1349.9 L972.2,1351.4 L973.6,1352.9 L974.9,1354.4 L976.2,1355.9 L977.6,1357.4 L978.9,1358.9 L980.2,1360.4 L981.6,1361.9 L982.9,1363.4 L984.3,1364.8 L985.6,1366.3 L987.0,1367.8 L988.3,1369.2 L989.7,1370.7 L991.1,1372.1 L992.4,1373.6 L993.8,1375.0 L995.2,1376.5 L996.6,1377.9 L998.0,1379.4 L999.4,1380.8 L1000.8,1382.2 L1002.2,1383.6 L1003.6,1385.1 L1005.0,1386.5 L1006.4,1387.9 L1007.8,1389.3 L1009.2,1390.7 L1010.6,1392.1 L1012.1,1393.5 L1013.5,1394.8 L1015.0,1396.2 L1016.4,1397.6 L1017.8,1399.0 L1019.3,1400.3 L1020.8,1401.7 L1022.2,1403.0 L1023.7,1404.4 L1025.2,1405.7 L1026.6,1407.1 L1028.1,1408.4 L1029.6,1409.7 L1031.1,1411.0 L1032.6,1412.4 L1034.1,1413.7 L1035.6,1415.0 L1037.1,1416.3 L1038.6,1417.6 L1040.2,1418.8 L1041.7,1420.1 L1043.2,1421.4 L1044.8,1422.7 L1046.3,1423.9 L1047.9,1425.2 L1049.4,1426.4 L1051.0,1427.7 L1052.6,1428.9 L1054.1,1430.1 L1055.7,1431.4 L1057.3,1432.6 L1058.9,1433.8 L1060.5,1435.0 L1062.1,1436.2 L1063.7,1437.4 L1065.3,1438.6 L1066.9,1439.8 L1068.5,1440.9 L1070.1,1442.1 L1071.7,1443.3 L1073.3,1444.4 L1075.0,1445.6 L1076.6,1446.7 L1078.3,1447.9 L1079.9,1449.0 L1081.6,1450.1 L1083.2,1451.2 L1084.9,1452.4 L1086.5,1453.5 L1088.2,1454.6 L1089.9,1455.7 L1091.5,1456.8 L1093.2,1457.8 L1094.9,1458.9 L1096.6,1460.0 L1098.3,1461.1 L1100.0,1462.1 L1101.7,1463.2 L1103.4,1464.2 L1105.1,1465.2 L1106.8,1466.3 L1108.5,1467.3 L1110.3,1468.3 L1112.0,1469.3 L1113.7,1470.3 L1115.4,1471.3 L1117.2,1472.3 L1118.9,1473.3 L1120.7,1474.3 L1122.4,1475.3 L1124.1,1476.3 L1125.9,1477.2 L1127.7,1478.2 L1129.4,1479.1 L1131.2,1480.1 L1133.0,1481.0 L1134.7,1481.9 L1136.5,1482.9 L1138.3,1483.8 L1140.1,1484.7 L1141.8,1485.6 L1143.6,1486.5 L1145.4,1487.4 L1147.2,1488.3 L1149.0,1489.1 L1150.8,1490.0 L1152.6,1490.9 L1154.4,1491.7 L1156.2,1492.6 L1158.0,1493.4 L1159.9,1494.3 L1161.7,1495.1 L1163.5,1495.9 L1165.3,1496.7 L1167.1,1497.5 L1169.0,1498.3 L1170.8,1499.1 L1172.6,1499.9 L1174.5,1500.7 L1176.3,1501.5 L1178.2,1502.3 L1180.0,1503.0 L1181.9,1503.8 L1183.7,1504.5 L1185.6,1505.3 L1187.4,1506.0 L1189.3,1506.7 L1191.1,1507.5 L1193.0,1508.2 L1194.9,1508.9 L1196.7,1509.6 L1198.6,1510.3 L1200.5,1511.0 L1202.3,1511.7 L1204.2,1512.3 L1206.1,1513.0 L1208.0,1513.7 L1209.9,1514.3 L1211.7,1515.0 L1213.6,1515.6 L1215.5,1516.3 L1217.4,1516.9 L1219.3,1517.5 L1221.2,1518.1 L1223.1,1518.7 L1225.0,1519.3 L1226.9,1519.9 L1228.8,1520.5 L1230.7,1521.1 L1232.6,1521.7 L1234.5,1522.3 L1236.4,1522.8 L1238.3,1523.4 L1240.3,1523.9 L1242.2,1524.5 L1244.1,1525.0 L1246.0,1525.6 L1247.9,1526.1 L1249.8,1526.6 L1251.8,1527.2 L1253.7,1527.7 L1255.6,1528.2 L1257.6,1528.7 L1259.5,1529.2 L1261.4,1529.7 L1263.4,1530.2 L1265.3,1530.6 L1267.2,1531.1 L1269.2,1531.6 L1271.1,1532.1 L1273.0,1532.5 L1275.0,1533.0 L1276.9,1533.4 L1278.9,1533.9 L1280.8,1534.3 L1282.8,1534.7 L1284.7,1535.2 L1286.7,1535.6 L1288.6,1536.0 L1290.6,1536.4 L1292.5,1536.9 L1294.5,1537.3 L1296.5,1537.7 L1298.4,1538.1 L1300.4,1538.5 L1302.3,1538.8 L1304.3,1539.2 L1306.3,1539.6 L1308.2,1540.0 L1310.2,1540.4 L1312.2,1540.7 L1314.1,1541.1 L1316.1,1541.4 L1318.1,1541.8 L1320.0,1542.1 L1322.0,1542.5 L1324.0,1542.8 L1325.9,1543.2 L1327.9,1543.5 L1329.9,1543.8 L1331.9,1544.2 L1333.8,1544.5 L1335.8,1544.8 L1337.8,1545.1 L1339.8,1545.4 L1341.8,1545.7 L1343.7,1546.0 L1345.7,1546.3 L1347.7,1546.6 L1349.7,1546.9 L1351.7,1547.2 L1353.7,1547.5 L1355.6,1547.8 L1357.6,1548.1 L1359.6,1548.4 L1361.6,1548.6 L1363.6,1548.9 L1365.6,1549.2 L1367.6,1549.4 L1369.6,1549.7 L1371.5,1549.9 L1373.5,1550.2 L1375.5,1550.5 L1377.5,1550.7 L1379.5,1551.0 L1381.5,1551.2 L1383.5,1551.4 L1385.5,1551.7 L1387.5,1551.9 L1389.5,1552.2 L1391.5,1552.4 L1393.4,1552.6 L1395.4,1552.8 L1397.4,1553.1 L1399.4,1553.3 L1401.4,1553.5 L1403.4,1553.7 L1405.4,1553.9 L1407.4,1554.2 L1409.4,1554.4 L1411.4,1554.6 L1413.4,1554.8 L1415.4,1555.0 L1417.4,1555.2 L1419.4,1555.4 L1421.4,1555.6 L1423.4,1555.8 L1425.4,1556.0 L1427.3,1556.2 L1429.3,1556.4 L1431.3,1556.6 L1433.3,1556.7 L1435.3,1556.9 L1437.3,1557.1 L1439.3,1557.3 L1441.3,1557.5 L1443.3,1557.7 L1445.3,1557.8 L1447.3,1558.0 L1449.3,1558.2 L1451.3,1558.4 L1453.3,1558.5 L1455.3,1558.7 L1457.3,1558.9 L1459.2,1559.0 L1461.2,1559.2 L1463.2,1559.4 L1465.2,1559.5 L1467.2,1559.7 L1469.2,1559.8 L1471.2,1560.0 L1473.2,1560.1 L1475.2,1560.3 L1477.2,1560.4 L1479.2,1560.6 L1481.2,1560.7 L1483.2,1560.9 L1485.2,1561.0 L1487.2,1561.2 L1489.2,1561.3 L1491.2,1561.4 L1493.1,1561.6 L1495.1,1561.7 L1497.1,1561.9 L1499.1,1562.0 L1501.1,1562.1 L1503.1,1562.3 L1505.1,1562.4 L1507.1,1562.5 L1509.1,1562.6 L1511.1,1562.8 L1513.1,1562.9 L1515.1,1563.0 L1517.1,1563.1 L1519.1,1563.2 L1521.1,1563.4 L1523.1,1563.5 L1525.0,1563.6 L1527.0,1563.7 L1529.0,1563.8 L1531.0,1563.9 L1533.0,1564.0 L1535.0,1564.1 L1537.0,1564.2 L1539.0,1564.3 L1541.0,1564.4 L1543.0,1564.5 L1545.0,1564.6 L1547.0,1564.7 L1549.0,1564.8 L1551.0,1564.9 L1553.0,1565.0 L1555.0,1565.1 L1556.9,1565.2 L1558.9,1565.3 L1560.9,1565.4 L1562.9,1565.5 L1564.9,1565.6 L1566.9,1565.7 L1568.9,1565.7 L1570.9,1565.8 L1572.9,1565.9 L1574.9,1566.0 L1576.9,1566.1 L1578.9,1566.2 L1580.9,1566.2 L1582.9,1566.3 L1584.9,1566.4 L1586.9,1566.5 L1588.9,1566.5 L1590.9,1566.6 L1592.8,1566.7 L1594.8,1566.7 L1596.8,1566.8 L1598.8,1566.9 L1600.8,1566.9 L1602.8,1567.0 L1604.8,1567.1 L1606.8,1567.1 L1608.8,1567.2 L1610.8,1567.3 L1612.8,1567.3 L1614.8,1567.4 L1616.8,1567.4 L1618.8,1567.5 L1620.8,1567.6 L1622.8,1567.6 L1624.8,1567.7 L1626.8,1567.7 L1628.7,1567.8 L1630.7,1567.8 L1632.7,1567.9 L1634.7,1567.9 L1636.7,1568.0 L1638.7,1568.0 L1640.7,1568.1 L1642.7,1568.1 L1644.7,1568.2 L1646.7,1568.2 L1648.7,1568.2 L1650.7,1568.3 L1652.7,1568.3 L1654.7,1568.4 L1656.7,1568.4 L1658.7,1568.5 L1660.7,1568.5 L1662.7,1568.5 L1664.7,1568.6 L1666.7,1568.6 L1668.7,1568.6 L1670.7,1568.7 L1672.6,1568.7 L1674.6,1568.7 L1676.6,1568.8 L1678.6,1568.8 L1680.6,1568.8 L1682.6,1568.9 L1684.6,1568.9 L1686.6,1568.9 L1688.6,1569.0 L1690.6,1569.0 L1692.6,1569.0 L1694.6,1569.0 L1696.6,1569.1 L1698.6,1569.1 L1700.6,1569.1 L1702.6,1569.1 L1704.6,1569.2 L1706.6,1569.2 L1708.6,1569.2 L1710.6,1569.2 L1712.6,1569.2 L1714.6,1569.3 L1716.6,1569.3 L1718.6,1569.3 L1720.6,1569.3 L1722.6,1569.3 L1724.6,1569.4 L1726.6,1569.4 L1728.5,1569.4 L1730.5,1569.4 L1732.5,1569.4 L1734.5,1569.4 L1736.5,1569.5 L1738.5,1569.5 L1740.5,1569.5 L1742.5,1569.5 L1744.5,1569.5 L1746.5,1569.5 L1748.5,1569.5 L1750.5,1569.5 L1752.5,1569.6 L1754.5,1569.6 L1756.5,1569.6 L1758.5,1569.6 L1760.5,1569.6 L1762.5,1569.6 L1764.5,1569.6 L1766.5,1569.6 L1768.5,1569.6 L1770.5,1569.6 L1772.5,1569.7 L1774.5,1569.7 L1776.5,1569.7 L1778.5,1569.7 L1780.5,1569.7 L1782.5,1569.7 L1784.5,1569.7 L1786.5,1569.7 L1788.5,1569.7 L1790.5,1569.7 L1792.5,1569.7 L1794.5,1569.7 L1796.5,1569.7 L1798.5,1569.7 L1800.5,1569.7 L1802.5,1569.7 L1804.5,1569.8 L1806.5,1569.8 L1808.5,1569.8 L1810.5,1569.8 L1812.5,1569.8 L1814.5,1569.8 L1816.5,1569.8 L1818.5,1569.8 L1820.5,1569.8 L1822.5,1569.8 L1824.5,1569.8 L1826.5,1569.8 L1828.5,1569.9 L1830.5,1569.9 L1832.5,1569.9 L1834.5,1569.9 L1836.5,1569.9 L1838.5,1569.9 L1840.5,1569.9 L1842.5,1569.9 L1844.5,1570.0 L1846.5,1570.0 L1848.5,1570.0 L1850.5,1570.0 L1852.5,1570.0 L1854.5,1570.1 L1856.5,1570.1 L1858.5,1570.1 L1860.5,1570.1 L1862.5,1570.2 L1864.5,1570.2 L1866.5,1570.2 L1868.5,1570.2 L1870.5,1570.3 L1872.5,1570.3 L1874.5,1570.3 L1876.5,1570.4 L1878.5,1570.4 L1880.5,1570.4 L1882.5,1570.5 L1884.5,1570.5 L1886.5,1570.6 L1888.5,1570.6 L1890.4,1570.7 L1892.4,1570.7 L1894.4,1570.8 L1896.4,1570.8 L1898.4,1570.9 L1900.4,1570.9 L1902.4,1571.0 L1904.4,1571.0 L1906.4,1571.1 L1908.4,1571.1 L1910.4,1571.2 L1912.4,1571.3 L1914.4,1571.3 L1916.4,1571.4 L1918.4,1571.5 L1920.4,1571.5 L1922.4,1571.6 L1924.4,1571.7 L1926.4,1571.8 L1928.4,1571.8 L1930.4,1571.9 L1932.4,1572.0 L1934.4,1572.1 L1936.4,1572.1 L1938.4,1572.2 L1940.4,1572.3 L1942.3,1572.3 L1944.3,1572.4 L1946.3,1572.5 L1948.3,1572.6 L1950.3,1572.6 L1952.3,1572.7 L1954.3,1572.8 L1956.3,1572.9 L1958.3,1572.9 L1960.3,1573.0 L1962.3,1573.1 L1964.3,1573.1 L1966.3,1573.2 L1968.3,1573.3 L1970.3,1573.4 L1972.3,1573.4 L1974.3,1573.5 L1976.3,1573.5 L1978.3,1573.6 L1980.3,1573.7 L1982.3,1573.7 L1984.3,1573.8 L1986.2,1573.8 L1988.2,1573.9 L1990.2,1573.9 L1992.2,1574.0 L1994.2,1574.0 L1996.2,1574.1 L1998.2,1574.1 L2000.2,1574.1 L2002.2,1574.2 L2004.2,1574.2 L2006.2,1574.2 L2008.2,1574.3 L2010.2,1574.3 L2012.2,1574.3 L2014.2,1574.3 L2016.2,1574.4 L2018.2,1574.4 L2020.2,1574.4 L2022.2,1574.4 L2024.2,1574.4 L2026.2,1574.4 L2028.2,1574.4 L2030.2,1574.4 L2032.2,1574.4 L2034.2,1574.4 L2036.2,1574.4 L2038.2,1574.4 L2040.2,1574.4 L2042.2,1574.4 L2044.2,1574.4 L2046.2,1574.4 L2048.2,1574.4 L2050.2,1574.4 L2052.2,1574.4 L2054.2,1574.4 L2056.2,1574.4 L2058.2,1574.3 L2060.2,1574.3 L2062.2,1574.3 L2064.2,1574.3 L2066.2,1574.3 L2068.2,1574.3 L2070.2,1574.2 L2072.2,1574.2 L2074.2,1574.2 L2076.2,1574.2 L2078.2,1574.2 L2080.2,1574.1 L2082.2,1574.1 L2084.2,1574.1 L2086.2,1574.1 L2088.2,1574.1 L2090.2,1574.0 L2092.2,1574.0 L2094.2,1574.0 L2096.2,1574.0 L2098.2,1574.0 L2100.2,1573.9 L2102.2,1573.9 L2104.2,1573.9 L2106.2,1573.9 L2108.2,1573.9 L2110.2,1573.8 L2112.2,1573.8 L2114.2,1573.8 L2116.2,1573.8 L2118.2,1573.8 L2120.2,1573.8 L2122.2,1573.7 L2124.2,1573.7 L2126.2,1573.7 L2128.2,1573.7 L2130.2,1573.7 L2132.2,1573.7 L2134.2,1573.7 L2136.2,1573.7 L2138.2,1573.7 L2140.2,1573.6 L2142.2,1573.6 L2144.2,1573.6 L2146.2,1573.6 L2148.2,1573.6 L2150.2,1573.6 L2152.2,1573.6 L2154.2,1573.6 L2156.2,1573.6 L2158.2,1573.6 L2160.2,1573.6 L2162.2,1573.6 L2164.1,1573.6 L2166.1,1573.6 L2168.1,1573.6 L2170.1,1573.6 L2172.1,1573.6 L2174.1,1573.6 L2176.1,1573.6 L2178.1,1573.6 L2180.1,1573.6 L2182.1,1573.7 L2184.1,1573.7 L2186.1,1573.7 L2188.1,1573.7 L2190.1,1573.7 L2192.1,1573.7 L2194.1,1573.7 L2196.1,1573.7 L2198.1,1573.7 L2200.1,1573.7 L2202.1,1573.7 L2204.1,1573.7 L2206.1,1573.7 L2208.1,1573.8 L2210.1,1573.8 L2212.1,1573.8 L2214.1,1573.8 L2216.1,1573.8 L2218.1,1573.8 L2220.1,1573.8 L2222.1,1573.8 L2224.1,1573.8 L2226.1,1573.9 L2228.1,1573.9 L2230.1,1573.9 L2232.1,1573.9 L2234.1,1573.9 L2236.1,1573.9 L2238.1,1573.9 L2240.1,1573.9 L2242.1,1573.9 L2244.1,1574.0 L2246.1,1574.0 L2248.1,1574.0 L2250.1,1574.0 L2252.1,1574.0 L2254.1,1574.0 L2256.1,1574.0 L2258.1,1574.0 L2260.1,1574.0 L2262.1,1574.0 L2264.1,1574.1 L2266.1,1574.1 L2268.1,1574.1 L2270.1,1574.1 L2272.1,1574.1 L2274.1,1574.1 L2276.1,1574.1 L2278.1,1574.1 L2280.0,1574.1 L2282.0,1574.1 L2284.0,1574.1 L2286.0,1574.1 L2288.0,1574.1 L2290.0,1574.1 L2292.0,1574.1 L2294.0,1574.2 L2296.0,1574.2 L2298.0,1574.2 L2300.0,1574.2 L2302.0,1574.2 L2304.0,1574.2 L2306.0,1574.2 L2308.0,1574.2 L2310.0,1574.2 L2312.0,1574.2 L2314.0,1574.2 L2316.0,1574.2 L2318.0,1574.2 L2320.0,1574.1 L2322.0,1574.1 L2324.0,1574.1 L2326.0,1574.1 L2328.0,1574.1 L2330.0,1574.1 L2332.0,1574.1 L2334.0,1574.1 L2336.0,1574.1 L2338.0,1574.1 L2340.0,1574.1 L2342.0,1574.1 L2344.0,1574.0 L2346.0,1574.0 L2348.0,1574.0 L2350.0,1574.0 L2352.0,1574.0 L2354.0,1574.0 L2356.0,1573.9 L2358.0,1573.9 L2360.0,1573.9 L2362.0,1573.9 L2364.0,1573.8 L2366.0,1573.8 L2368.0,1573.8" fill="none" stroke="#00FFFF" stroke-width="12" stroke-linecap="round" stroke-linejoin="round"/>
<path d="M291.0,1564.0 L293.0,1564.0 L295.0,1564.0 L297.0,1564.0 L299.0,1563.9 L301.0,1563.9 L303.0,1563.9 L305.0,1563.9 L307.0,1563.9 L309.0,1563.8 L311.0,1563.8 L313.0,1563.8 L315.0,1563.8 L317.0,1563.7 L319.0,1563.7 L321.0,1563.7 L323.0,1563.6 L325.0,1563.6 L327.0,1563.6 L329.0,1563.5 L331.0,1563.5 L333.0,1563.4 L335.0,1563.4 L337.0,1563.4 L339.0,1563.3 L341.0,1563.3 L343.0,1563.2 L345.0,1563.2 L347.0,1563.1 L349.0,1563.1 L351.0,1563.0 L353.0,1562.9 L355.0,1562.9 L357.0,1562.8 L359.0,1562.8 L361.0,1562.7 L363.0,1562.6 L365.0,1562.6 L367.0,1562.5 L368.9,1562.4 L370.9,1562.3 L372.9,1562.3 L374.9,1562.2 L376.9,1562.1 L378.9,1562.0 L380.9,1561.9 L382.9,1561.8 L384.9,1561.7 L386.9,1561.6 L388.9,1561.5 L390.9,1561.4 L392.9,1561.3 L394.9,1561.2 L396.9,1561.1 L398.9,1561.0 L400.9,1560.9 L402.9,1560.8 L404.9,1560.7 L406.9,1560.5 L408.9,1560.4 L410.9,1560.3 L412.9,1560.2 L414.8,1560.0 L416.8,1559.9 L418.8,1559.8 L420.8,1559.6 L422.8,1559.5 L424.8,1559.3 L426.8,1559.2 L428.8,1559.0 L430.8,1558.9 L432.8,1558.7 L434.8,1558.5 L436.8,1558.4 L438.8,1558.2 L440.8,1558.0 L442.8,1557.9 L444.8,1557.7 L446.8,1557.5 L448.8,1557.3 L450.8,1557.2 L452.8,1557.0 L454.7,1556.8 L456.7,1556.6 L458.7,1556.4 L460.7,1556.3 L462.7,1556.1 L464.7,1555.9 L466.7,1555.7 L468.7,1555.5 L470.7,1555.4 L472.7,1555.2 L474.7,1555.0 L476.7,1554.8 L478.7,1554.7 L480.7,1554.5 L482.7,1554.3 L484.7,1554.1 L486.7,1554.0 L488.7,1553.8 L490.7,1553.6 L492.7,1553.5 L494.7,1553.3 L496.6,1553.1 L498.6,1553.0 L500.6,1552.8 L502.6,1552.7 L504.6,1552.5 L506.6,1552.4 L508.6,1552.3 L510.6,1552.1 L512.6,1552.0 L514.6,1551.9 L516.6,1551.7 L518.6,1551.6 L520.6,1551.5 L522.6,1551.4 L524.6,1551.3 L526.6,1551.2 L528.6,1551.1 L530.6,1551.0 L532.6,1550.9 L534.6,1550.9 L536.6,1550.8 L538.5,1550.7 L540.5,1550.7 L542.5,1550.6 L544.5,1550.6 L546.5,1550.6 L548.5,1550.5 L550.5,1550.5 L552.5,1550.5 L554.5,1550.5 L556.5,1550.5 L558.5,1550.5 L560.5,1550.5 L562.5,1550.6 L564.5,1550.6 L566.5,1550.6 L568.5,1550.7 L570.5,1550.7 L572.5,1550.8 L574.5,1550.9 L576.5,1551.0 L578.5,1551.0 L580.4,1551.1 L582.4,1551.2 L584.4,1551.3 L586.4,1551.4 L588.4,1551.5 L590.4,1551.7 L592.4,1551.8 L594.4,1551.9 L596.4,1552.0 L598.4,1552.2 L600.4,1552.3 L602.4,1552.4 L604.4,1552.6 L606.4,1552.7 L608.4,1552.9 L610.4,1553.0 L612.4,1553.2 L614.4,1553.3 L616.4,1553.5 L618.4,1553.6 L620.4,1553.8 L622.4,1553.9 L624.4,1554.1 L626.4,1554.2 L628.3,1554.4 L630.3,1554.5 L632.3,1554.7 L634.3,1554.8 L636.3,1555.0 L638.3,1555.1 L640.3,1555.3 L642.3,1555.4 L644.3,1555.6 L646.3,1555.7 L648.3,1555.9 L650.3,1556.0 L652.3,1556.1 L654.3,1556.3 L656.3,1556.4 L658.3,1556.5 L660.3,1556.6 L662.3,1556.8 L664.3,1556.9 L666.3,1557.0 L668.3,1557.1 L670.3,1557.2 L672.3,1557.3 L674.3,1557.4 L676.3,1557.5 L678.3,1557.6 L680.3,1557.7 L682.3,1557.8 L684.2,1557.9 L686.2,1558.0 L688.2,1558.1 L690.2,1558.2 L692.2,1558.3 L694.2,1558.4 L696.2,1558.5 L698.2,1558.6 L700.2,1558.7 L702.2,1558.7 L704.2,1558.8 L706.2,1558.9 L708.2,1559.0 L710.2,1559.0 L712.2,1559.1 L714.2,1559.2 L716.2,1559.2 L718.2,1559.3 L720.2,1559.4 L722.2,1559.4 L724.2,1559.5 L726.2,1559.6 L728.2,1559.6 L730.2,1559.7 L732.2,1559.7 L734.2,1559.8 L736.2,1559.8 L738.2,1559.9 L740.2,1560.0 L742.2,1560.0 L744.2,1560.0 L746.2,1560.1 L748.2,1560.1 L750.2,1560.2 L752.2,1560.2 L754.2,1560.3 L756.2,1560.3 L758.2,1560.4 L760.2,1560.4 L762.2,1560.4 L764.1,1560.5 L766.1,1560.5 L768.1,1560.5 L770.1,1560.6 L772.1,1560.6 L774.1,1560.6 L776.1,1560.7 L778.1,1560.7 L780.1,1560.7 L782.1,1560.8 L784.1,1560.8 L786.1,1560.8 L788.1,1560.8 L790.1,1560.9 L792.1,1560.9 L794.1,1560.9 L796.1,1560.9 L798.1,1561.0 L800.1,1561.0 L802.1,1561.0 L804.1,1561.0 L806.1,1561.1 L808.1,1561.1 L810.1,1561.1 L812.1,1561.1 L814.1,1561.1 L816.1,1561.2 L818.1,1561.2 L820.1,1561.2 L822.1,1561.2 L824.1,1561.2 L826.1,1561.3 L828.1,1561.3 L830.1,1561.3 L832.1,1561.3 L834.1,1561.3 L836.1,1561.3 L838.1,1561.4 L840.1,1561.4 L842.1,1561.4 L844.1,1561.4 L846.1,1561.4 L848.1,1561.5 L850.1,1561.5 L852.1,1561.5 L854.1,1561.5 L856.1,1561.5 L858.1,1561.5 L860.1,1561.6 L862.1,1561.6 L864.1,1561.6 L866.1,1561.6 L868.1,1561.6 L870.1,1561.7 L872.1,1561.7 L874.1,1561.7 L876.1,1561.7 L878.1,1561.7 L880.1,1561.8 L882.1,1561.8 L884.1,1561.8 L886.1,1561.8 L888.1,1561.9 L890.1,1561.9 L892.1,1561.9 L894.1,1561.9 L896.1,1562.0 L898.1,1562.0 L900.1,1562.0 L902.1,1562.0 L904.1,1562.1 L906.1,1562.1 L908.1,1562.1 L910.1,1562.1 L912.1,1562.2 L914.1,1562.2 L916.1,1562.2 L918.1,1562.3 L920.1,1562.3 L922.1,1562.3 L924.1,1562.3 L926.1,1562.4 L928.1,1562.4 L930.1,1562.4 L932.1,1562.4 L934.1,1562.5 L936.1,1562.5 L938.1,1562.5 L940.1,1562.6 L942.1,1562.6 L944.1,1562.6 L946.1,1562.6 L948.1,1562.7 L950.1,1562.7 L952.1,1562.7 L954.1,1562.8 L956.1,1562.8 L958.1,1562.8 L960.1,1562.8 L962.1,1562.9 L964.1,1562.9 L966.1,1562.9 L968.1,1562.9 L970.1,1563.0 L972.1,1563.0 L974.1,1563.0 L976.1,1563.0 L978.1,1563.1 L980.1,1563.1 L982.1,1563.1 L984.1,1563.1 L986.1,1563.2 L988.1,1563.2 L990.1,1563.2 L992.1,1563.2 L994.1,1563.2 L996.1,1563.3 L998.1,1563.3 L1000.1,1563.3 L1002.1,1563.3 L1004.1,1563.3 L1006.1,1563.4 L1008.1,1563.4 L1010.1,1563.4 L1012.1,1563.4 L1014.1,1563.4 L1016.1,1563.5 L1018.1,1563.5 L1020.1,1563.5 L1022.1,1563.5 L1024.1,1563.5 L1026.1,1563.5 L1028.1,1563.5 L1030.1,1563.5 L1032.1,1563.5 L1034.1,1563.6 L1036.1,1563.6 L1038.1,1563.6 L1040.1,1563.6 L1042.1,1563.6 L1044.1,1563.6 L1046.1,1563.6 L1048.1,1563.6 L1050.1,1563.6 L1052.1,1563.6 L1054.1,1563.6 L1056.1,1563.6 L1058.1,1563.6 L1060.1,1563.6 L1062.1,1563.6 L1064.1,1563.6 L1066.1,1563.6 L1068.1,1563.6 L1070.1,1563.6 L1072.1,1563.6 L1074.1,1563.6 L1076.1,1563.5 L1078.1,1563.5 L1080.1,1563.5 L1082.1,1563.5 L1084.1,1563.5 L1086.1,1563.5 L1088.1,1563.5 L1090.1,1563.4 L1092.1,1563.4 L1094.1,1563.4 L1096.1,1563.4 L1098.1,1563.4 L1100.1,1563.3 L1102.1,1563.3 L1104.1,1563.3 L1106.1,1563.2 L1108.1,1563.2 L1110.1,1563.2 L1112.1,1563.2 L1114.1,1563.1 L1116.1,1563.1 L1118.1,1563.1 L1120.0,1563.0 L1122.0,1563.0 L1124.0,1562.9 L1126.0,1562.9 L1128.0,1562.9 L1130.0,1562.8 L1132.0,1562.8 L1134.0,1562.7 L1136.0,1562.7 L1138.0,1562.6 L1140.0,1562.6 L1142.0,1562.5 L1144.0,1562.5 L1146.0,1562.4 L1148.0,1562.4 L1150.0,1562.3 L1152.0,1562.3 L1154.0,1562.2 L1156.0,1562.1 L1158.0,1562.1 L1160.0,1562.0 L1162.0,1562.0 L1164.0,1561.9 L1166.0,1561.8 L1168.0,1561.8 L1170.0,1561.7 L1172.0,1561.6 L1174.0,1561.6 L1176.0,1561.5 L1178.0,1561.4 L1180.0,1561.4 L1182.0,1561.3 L1184.0,1561.2 L1186.0,1561.1 L1188.0,1561.1 L1190.0,1561.0 L1192.0,1560.9 L1194.0,1560.8 L1195.9,1560.8 L1197.9,1560.7 L1199.9,1560.6 L1201.9,1560.5 L1203.9,1560.4 L1205.9,1560.3 L1207.9,1560.3 L1209.9,1560.2 L1211.9,1560.1 L1213.9,1560.0 L1215.9,1559.9 L1217.9,1559.8 L1219.9,1559.7 L1221.9,1559.6 L1223.9,1559.5 L1225.9,1559.4 L1227.9,1559.4 L1229.9,1559.3 L1231.9,1559.2 L1233.9,1559.1 L1235.9,1559.0 L1237.9,1558.9 L1239.9,1558.8 L1241.9,1558.7 L1243.9,1558.6 L1245.9,1558.5 L1247.8,1558.4 L1249.8,1558.3 L1251.8,1558.2 L1253.8,1558.1 L1255.8,1557.9 L1257.8,1557.8 L1259.8,1557.7 L1261.8,1557.6 L1263.8,1557.5 L1265.8,1557.4 L1267.8,1557.3 L1269.8,1557.2 L1271.8,1557.1 L1273.8,1557.0 L1275.8,1556.8 L1277.8,1556.7 L1279.8,1556.6 L1281.8,1556.5 L1283.8,1556.4 L1285.8,1556.3 L1287.8,1556.2 L1289.8,1556.0 L1291.7,1555.9 L1293.7,1555.8 L1295.7,1555.7 L1297.7,1555.6 L1299.7,1555.4 L1301.7,1555.3 L1303.7,1555.2 L1305.7,1555.1 L1307.7,1554.9 L1309.7,1554.8 L1311.7,1554.7 L1313.7,1554.6 L1315.7,1554.4 L1317.7,1554.3 L1319.7,1554.2 L1321.7,1554.1 L1323.7,1553.9 L1325.7,1553.8 L1327.7,1553.7 L1329.6,1553.5 L1331.6,1553.4 L1333.6,1553.3 L1335.6,1553.1 L1337.6,1553.0 L1339.6,1552.9 L1341.6,1552.7 L1343.6,1552.6 L1345.6,1552.5 L1347.6,1552.3 L1349.6,1552.2 L1351.6,1552.1 L1353.6,1551.9 L1355.6,1551.8 L1357.6,1551.7 L1359.6,1551.5 L1361.6,1551.4 L1363.6,1551.2 L1365.5,1551.1 L1367.5,1551.0 L1369.5,1550.8 L1371.5,1550.7 L1373.5,1550.5 L1375.5,1550.4 L1377.5,1550.2 L1379.5,1550.1 L1381.5,1550.0 L1383.5,1549.8 L1385.5,1549.7 L1387.5,1549.5 L1389.5,1549.4 L1391.5,1549.2 L1393.5,1549.1 L1395.5,1549.0 L1397.5,1548.8 L1399.4,1548.7 L1401.4,1548.5 L1403.4,1548.4 L1405.4,1548.2 L1407.4,1548.1 L1409.4,1547.9 L1411.4,1547.8 L1413.4,1547.6 L1415.4,1547.5 L1417.4,1547.3 L1419.4,1547.2 L1421.4,1547.0 L1423.4,1546.9 L1425.4,1546.7 L1427.4,1546.6 L1429.3,1546.4 L1431.3,1546.3 L1433.3,1546.2 L1435.3,1546.0 L1437.3,1545.9 L1439.3,1545.7 L1441.3,1545.6 L1443.3,1545.4 L1445.3,1545.3 L1447.3,1545.1 L1449.3,1545.0 L1451.3,1544.8 L1453.3,1544.7 L1455.3,1544.6 L1457.3,1544.4 L1459.3,1544.3 L1461.2,1544.1 L1463.2,1544.0 L1465.2,1543.9 L1467.2,1543.7 L1469.2,1543.6 L1471.2,1543.5 L1473.2,1543.3 L1475.2,1543.2 L1477.2,1543.1 L1479.2,1542.9 L1481.2,1542.8 L1483.2,1542.7 L1485.2,1542.5 L1487.2,1542.4 L1489.2,1542.3 L1491.2,1542.2 L1493.2,1542.1 L1495.2,1541.9 L1497.1,1541.8 L1499.1,1541.7 L1501.1,1541.6 L1503.1,1541.5 L1505.1,1541.4 L1507.1,1541.3 L1509.1,1541.1 L1511.1,1541.0 L1513.1,1540.9 L1515.1,1540.8 L1517.1,1540.7 L1519.1,1540.6 L1521.1,1540.5 L1523.1,1540.5 L1525.1,1540.4 L1527.1,1540.3 L1529.1,1540.2 L1531.1,1540.1 L1533.1,1540.0 L1535.1,1539.9 L1537.1,1539.9 L1539.1,1539.8 L1541.1,1539.7 L1543.1,1539.7 L1545.1,1539.6 L1547.1,1539.5 L1549.1,1539.5 L1551.0,1539.4 L1553.0,1539.4 L1555.0,1539.3 L1557.0,1539.3 L1559.0,1539.2 L1561.0,1539.2 L1563.0,1539.1 L1565.0,1539.1 L1567.0,1539.1 L1569.0,1539.0 L1571.0,1539.0 L1573.0,1539.0 L1575.0,1538.9 L1577.0,1538.9 L1579.0,1538.9 L1581.0,1538.9 L1583.0,1538.9 L1585.0,1538.9 L1587.0,1538.9 L1589.0,1538.9 L1591.0,1538.9 L1593.0,1538.9 L1595.0,1538.9 L1597.0,1538.9 L1599.0,1539.0 L1601.0,1539.0 L1603.0,1539.0 L1605.0,1539.0 L1607.1,1539.1 L1609.1,1539.1 L1611.1,1539.2 L1613.1,1539.2 L1615.1,1539.3 L1617.1,1539.3 L1619.1,1539.4 L1621.1,1539.4 L1623.1,1539.5 L1625.1,1539.6 L1627.1,1539.7 L1629.1,1539.7 L1631.1,1539.8 L1633.1,1539.9 L1635.1,1540.0 L1637.1,1540.1 L1639.1,1540.2 L1641.1,1540.3 L1643.1,1540.4 L1645.1,1540.6 L1647.1,1540.7 L1649.1,1540.8 L1651.2,1541.0 L1653.2,1541.1 L1655.2,1541.2 L1657.2,1541.4 L1659.2,1541.5 L1661.2,1541.7 L1663.2,1541.8 L1665.2,1542.0 L1667.2,1542.1 L1669.2,1542.3 L1671.2,1542.4 L1673.2,1542.6 L1675.2,1542.7 L1677.2,1542.8 L1679.3,1542.9 L1681.3,1543.1 L1683.3,1543.2 L1685.3,1543.3 L1687.3,1543.3 L1689.3,1543.4 L1691.3,1543.5 L1693.3,1543.5 L1695.3,1543.5 L1697.3,1543.6 L1699.3,1543.6 L1701.2,1543.5 L1703.2,1543.5 L1705.2,1543.4 L1707.2,1543.4 L1709.2,1543.2 L1711.2,1543.1 L1713.2,1543.0 L1715.2,1542.8 L1717.1,1542.6 L1719.1,1542.4 L1721.1,1542.1 L1723.0,1541.8 L1725.0,1541.4 L1726.9,1541.0 L1728.8,1540.6 L1730.6,1540.0 L1732.5,1539.4 L1734.3,1538.7 L1736.0,1537.9 L1737.7,1537.1 L1739.4,1536.1 L1741.0,1535.1 L1742.6,1534.0 L1744.2,1532.9 L1745.7,1531.7 L1747.2,1530.4 L1748.6,1529.1 L1750.1,1527.7 L1751.4,1526.3 L1752.8,1524.9 L1754.1,1523.3 L1755.4,1521.8 L1756.7,1520.2 L1758.0,1518.6 L1759.2,1517.0 L1760.4,1515.3 L1761.5,1513.6 L1762.7,1511.9 L1763.8,1510.2 L1764.9,1508.5 L1766.0,1506.7 L1767.0,1505.0 L1768.0,1503.2 L1769.0,1501.5 L1770.0,1499.8 L1771.0,1498.1 L1772.0,1496.3 L1772.9,1494.6 L1773.8,1492.9 L1774.7,1491.2 L1775.6,1489.5 L1776.5,1487.8 L1777.4,1486.1 L1778.3,1484.4 L1779.2,1482.6 L1780.1,1480.9 L1780.9,1479.1 L1781.8,1477.3 L1782.7,1475.5 L1783.5,1473.6 L1784.4,1471.7 L1785.3,1469.8 L1786.2,1467.8 L1787.1,1465.9 L1788.0,1463.8 L1788.9,1461.8 L1789.9,1459.7 L1790.9,1457.6 L1791.8,1455.5 L1792.9,1453.4 L1793.9,1451.4 L1795.0,1449.4 L1796.1,1447.4 L1797.2,1445.5 L1798.4,1443.6 L1799.6,1441.8 L1800.9,1440.2 L1802.2,1438.6 L1803.5,1437.1 L1804.9,1435.8 L1806.4,1434.5 L1807.9,1433.5 L1809.4,1432.6 L1810.9,1431.8 L1812.4,1431.3 L1814.0,1430.9 L1815.5,1430.8 L1817.1,1430.8 L1818.7,1431.1 L1820.3,1431.5 L1821.8,1432.1 L1823.4,1432.9 L1825.0,1433.9 L1826.5,1434.9 L1828.0,1436.2 L1829.5,1437.5 L1831.0,1438.9 L1832.5,1440.4 L1833.9,1442.1 L1835.3,1443.7 L1836.6,1445.5 L1838.0,1447.3 L1839.2,1449.1 L1840.5,1450.9 L1841.6,1452.8 L1842.8,1454.6 L1843.8,1456.5 L1844.9,1458.3 L1845.8,1460.2 L1846.8,1462.1 L1847.7,1463.9 L1848.5,1465.8 L1849.4,1467.6 L1850.2,1469.5 L1851.0,1471.3 L1851.7,1473.2 L1852.4,1475.0 L1853.2,1476.9 L1853.8,1478.8 L1854.5,1480.6 L1855.2,1482.5 L1855.9,1484.4 L1856.5,1486.2 L1857.2,1488.1 L1857.8,1490.0 L1858.5,1491.8 L1859.2,1493.7 L1859.9,1495.6 L1860.6,1497.5 L1861.3,1499.4 L1862.0,1501.3 L1862.7,1503.2 L1863.5,1505.1 L1864.3,1507.0 L1865.1,1508.8 L1866.0,1510.7 L1866.9,1512.6 L1867.8,1514.5 L1868.7,1516.3 L1869.7,1518.2 L1870.7,1520.0 L1871.7,1521.8 L1872.8,1523.5 L1873.9,1525.2 L1875.1,1526.9 L1876.3,1528.6 L1877.5,1530.2 L1878.8,1531.7 L1880.1,1533.2 L1881.4,1534.7 L1882.8,1536.1 L1884.2,1537.4 L1885.7,1538.7 L1887.2,1540.0 L1888.7,1541.2 L1890.3,1542.3 L1891.9,1543.4 L1893.5,1544.5 L1895.2,1545.5 L1896.9,1546.4 L1898.6,1547.4 L1900.3,1548.3 L1902.1,1549.1 L1903.9,1549.9 L1905.7,1550.7 L1907.5,1551.4 L1909.3,1552.1 L1911.2,1552.8 L1913.0,1553.4 L1914.9,1554.0 L1916.8,1554.6 L1918.7,1555.1 L1920.6,1555.7 L1922.5,1556.1 L1924.4,1556.6 L1926.3,1557.0 L1928.3,1557.5 L1930.2,1557.8 L1932.1,1558.2 L1934.1,1558.5 L1936.0,1558.9 L1938.0,1559.1 L1939.9,1559.4 L1941.9,1559.7 L1943.9,1559.9 L1945.8,1560.1 L1947.8,1560.3 L1949.8,1560.5 L1951.8,1560.6 L1953.7,1560.8 L1955.7,1560.9 L1957.7,1561.0 L1959.7,1561.1 L1961.7,1561.2 L1963.7,1561.3 L1965.7,1561.3 L1967.7,1561.4 L1969.7,1561.4 L1971.7,1561.4 L1973.8,1561.4 L1975.8,1561.4 L1977.8,1561.4 L1979.8,1561.4 L1981.8,1561.4 L1983.8,1561.4 L1985.9,1561.4 L1987.9,1561.3 L1989.9,1561.3 L1991.9,1561.2 L1994.0,1561.2 L1996.0,1561.2 L1998.0,1561.1 L2000.0,1561.1 L2002.0,1561.0 L2004.1,1561.0 L2006.1,1560.9 L2008.1,1560.9 L2010.1,1560.8 L2012.2,1560.8 L2014.2,1560.7 L2016.2,1560.7 L2018.2,1560.7 L2020.2,1560.6 L2022.2,1560.6 L2024.3,1560.6 L2026.3,1560.6 L2028.3,1560.6 L2030.3,1560.6 L2032.3,1560.6 L2034.3,1560.6 L2036.3,1560.6 L2038.3,1560.6 L2040.3,1560.6 L2042.3,1560.6 L2044.3,1560.6 L2046.3,1560.6 L2048.3,1560.7 L2050.3,1560.7 L2052.3,1560.7 L2054.3,1560.7 L2056.3,1560.8 L2058.3,1560.8 L2060.3,1560.8 L2062.3,1560.9 L2064.3,1560.9 L2066.3,1561.0 L2068.3,1561.0 L2070.3,1561.0 L2072.3,1561.1 L2074.3,1561.1 L2076.3,1561.2 L2078.3,1561.2 L2080.3,1561.3 L2082.3,1561.3 L2084.3,1561.4 L2086.3,1561.5 L2088.3,1561.5 L2090.3,1561.6 L2092.3,1561.6 L2094.3,1561.7 L2096.2,1561.8 L2098.2,1561.8 L2100.2,1561.9 L2102.2,1561.9 L2104.2,1562.0 L2106.2,1562.1 L2108.2,1562.1 L2110.2,1562.2 L2112.2,1562.3 L2114.2,1562.3 L2116.2,1562.4 L2118.2,1562.5 L2120.2,1562.5 L2122.1,1562.6 L2124.1,1562.6 L2126.1,1562.7 L2128.1,1562.8 L2130.1,1562.8 L2132.1,1562.9 L2134.1,1562.9 L2136.1,1563.0 L2138.1,1563.1 L2140.1,1563.1 L2142.1,1563.2 L2144.1,1563.2 L2146.1,1563.3 L2148.1,1563.3 L2150.1,1563.4 L2152.1,1563.5 L2154.1,1563.5 L2156.1,1563.6 L2158.1,1563.6 L2160.1,1563.7 L2162.1,1563.7 L2164.1,1563.8 L2166.1,1563.8 L2168.1,1563.9 L2170.1,1563.9 L2172.0,1564.0 L2174.0,1564.0 L2176.0,1564.1 L2178.0,1564.1 L2180.0,1564.2 L2182.0,1564.2 L2184.0,1564.3 L2186.0,1564.3 L2188.0,1564.4 L2190.0,1564.4 L2192.0,1564.5 L2194.0,1564.5 L2196.0,1564.6 L2198.0,1564.6 L2200.0,1564.6 L2202.0,1564.7 L2204.0,1564.7 L2206.1,1564.8 L2208.1,1564.8 L2210.1,1564.9 L2212.1,1564.9 L2214.1,1565.0 L2216.1,1565.0 L2218.1,1565.1 L2220.1,1565.1 L2222.1,1565.2 L2224.1,1565.2 L2226.1,1565.2 L2228.1,1565.3 L2230.1,1565.3 L2232.1,1565.4 L2234.1,1565.4 L2236.1,1565.5 L2238.1,1565.5 L2240.1,1565.6 L2242.1,1565.6 L2244.1,1565.6 L2246.1,1565.7 L2248.1,1565.7 L2250.1,1565.8 L2252.1,1565.8 L2254.1,1565.9 L2256.1,1565.9 L2258.1,1566.0 L2260.1,1566.0 L2262.1,1566.1 L2264.1,1566.1 L2266.1,1566.2 L2268.1,1566.2 L2270.1,1566.2 L2272.1,1566.3 L2274.1,1566.3 L2276.1,1566.4 L2278.1,1566.4 L2280.1,1566.5 L2282.1,1566.5 L2284.1,1566.6 L2286.1,1566.6 L2288.1,1566.7 L2290.1,1566.7 L2292.1,1566.8 L2294.1,1566.8 L2296.1,1566.9 L2298.1,1566.9 L2300.1,1567.0 L2302.1,1567.0 L2304.1,1567.1 L2306.1,1567.1 L2308.1,1567.2 L2310.1,1567.3 L2312.1,1567.3 L2314.1,1567.4 L2316.1,1567.4 L2318.1,1567.5 L2320.1,1567.5 L2322.1,1567.6 L2324.1,1567.6 L2326.1,1567.7 L2328.1,1567.8 L2330.1,1567.8 L2332.1,1567.9 L2334.1,1567.9 L2336.1,1568.0 L2338.0,1568.1 L2340.0,1568.1 L2342.0,1568.2 L2344.0,1568.2 L2346.0,1568.3 L2348.0,1568.4 L2350.0,1568.4 L2352.0,1568.5 L2354.0,1568.6 L2356.0,1568.6 L2358.0,1568.7 L2360.0,1568.8 L2362.0,1568.9 L2364.0,1568.9 L2366.0,1569.0 L2367.9,1569.1" fill="none" stroke="#FF0000" stroke-width="12" stroke-linecap="round" stroke-linejoin="round"/>
<path d="M291.0,1572.2 L293.0,1572.1 L295.0,1572.1 L297.0,1572.0 L299.0,1572.0 L301.0,1571.9 L303.0,1571.9 L305.0,1571.9 L307.0,1571.8 L309.0,1571.8 L311.0,1571.8 L313.0,1571.7 L315.0,1571.7 L317.0,1571.7 L319.0,1571.7 L321.0,1571.7 L323.0,1571.6 L325.0,1571.6 L327.0,1571.6 L329.0,1571.6 L331.0,1571.6 L333.0,1571.6 L335.0,1571.6 L337.0,1571.6 L339.0,1571.6 L341.0,1571.6 L343.0,1571.6 L345.0,1571.6 L347.0,1571.6 L349.0,1571.6 L351.0,1571.6 L353.0,1571.6 L355.0,1571.6 L357.0,1571.6 L359.0,1571.6 L361.0,1571.6 L363.0,1571.6 L365.0,1571.6 L367.0,1571.6 L369.0,1571.6 L371.0,1571.6 L373.0,1571.7 L375.0,1571.7 L377.0,1571.7 L379.0,1571.7 L381.0,1571.7 L383.0,1571.7 L385.0,1571.7 L386.9,1571.7 L388.9,1571.7 L390.9,1571.7 L392.9,1571.7 L394.9,1571.7 L396.9,1571.7 L398.9,1571.7 L400.9,1571.7 L402.9,1571.7 L404.9,1571.7 L406.9,1571.7 L408.9,1571.7 L410.9,1571.7 L412.9,1571.6 L414.9,1571.6 L416.9,1571.6 L418.9,1571.6 L420.9,1571.6 L422.9,1571.5 L424.9,1571.5 L426.9,1571.5 L428.9,1571.5 L430.9,1571.4 L432.9,1571.4 L434.9,1571.4 L436.9,1571.3 L438.9,1571.3 L440.9,1571.2 L442.9,1571.2 L444.9,1571.1 L446.9,1571.1 L448.9,1571.0 L450.9,1570.9 L452.9,1570.9 L454.9,1570.8 L456.9,1570.8 L458.9,1570.7 L460.9,1570.6 L462.9,1570.5 L464.9,1570.5 L466.9,1570.4 L468.9,1570.3 L470.9,1570.2 L472.9,1570.2 L474.9,1570.1 L476.9,1570.0 L478.9,1569.9 L480.9,1569.8 L482.9,1569.8 L484.9,1569.7 L486.9,1569.6 L488.9,1569.5 L490.9,1569.4 L492.9,1569.3 L494.9,1569.3 L496.9,1569.2 L498.9,1569.1 L500.9,1569.0 L502.9,1568.9 L504.9,1568.9 L506.9,1568.8 L508.9,1568.7 L510.9,1568.6 L512.9,1568.6 L514.9,1568.5 L516.9,1568.4 L518.9,1568.3 L520.9,1568.3 L522.9,1568.2 L524.9,1568.2 L526.9,1568.1 L528.9,1568.0 L530.9,1568.0 L532.9,1567.9 L534.9,1567.9 L536.9,1567.8 L538.9,1567.8 L540.9,1567.7 L542.9,1567.7 L544.9,1567.7 L546.9,1567.6 L548.9,1567.6 L550.9,1567.6 L552.9,1567.6 L554.9,1567.6 L556.9,1567.6 L558.8,1567.5 L560.8,1567.5 L562.8,1567.5 L564.8,1567.6 L566.8,1567.6 L568.8,1567.6 L570.8,1567.6 L572.8,1567.6 L574.8,1567.7 L576.8,1567.7 L578.8,1567.7 L580.8,1567.8 L582.8,1567.8 L584.8,1567.8 L586.8,1567.9 L588.8,1567.9 L590.8,1568.0 L592.8,1568.0 L594.7,1568.1 L596.7,1568.2 L598.7,1568.2 L600.7,1568.3 L602.7,1568.4 L604.7,1568.4 L606.7,1568.5 L608.7,1568.6 L610.7,1568.6 L612.7,1568.7 L614.7,1568.8 L616.7,1568.9 L618.7,1568.9 L620.7,1569.0 L622.7,1569.1 L624.6,1569.2 L626.6,1569.3 L628.6,1569.3 L630.6,1569.4 L632.6,1569.5 L634.6,1569.6 L636.6,1569.7 L638.6,1569.8 L640.6,1569.8 L642.6,1569.9 L644.6,1570.0 L646.6,1570.1 L648.6,1570.2 L650.6,1570.2 L652.6,1570.3 L654.6,1570.4 L656.6,1570.5 L658.5,1570.5 L660.5,1570.6 L662.5,1570.7 L664.5,1570.8 L666.5,1570.8 L668.5,1570.9 L670.5,1571.0 L672.5,1571.0 L674.5,1571.1 L676.5,1571.1 L678.5,1571.2 L680.5,1571.2 L682.5,1571.3 L684.5,1571.3 L686.5,1571.4 L688.5,1571.4 L690.5,1571.4 L692.5,1571.5 L694.5,1571.5 L696.5,1571.5 L698.5,1571.5 L700.5,1571.6 L702.5,1571.6 L704.5,1571.6 L706.5,1571.6 L708.5,1571.6 L710.5,1571.6 L712.5,1571.6 L714.5,1571.6 L716.5,1571.5 L718.5,1571.5 L720.5,1571.5 L722.5,1571.5 L724.5,1571.4 L726.6,1571.4 L728.6,1571.3 L730.6,1571.3 L732.6,1571.2 L734.6,1571.2 L736.6,1571.1 L738.6,1571.1 L740.6,1571.0 L742.6,1570.9 L744.6,1570.8 L746.6,1570.7 L748.6,1570.6 L750.6,1570.5 L752.6,1570.4 L754.6,1570.3 L756.6,1570.2 L758.6,1570.1 L760.6,1570.0 L762.6,1569.8 L764.6,1569.7 L766.6,1569.5 L768.6,1569.4 L770.6,1569.2 L772.6,1569.1 L774.6,1568.9 L776.6,1568.7 L778.6,1568.6 L780.6,1568.4 L782.6,1568.2 L784.6,1568.0 L786.5,1567.8 L788.5,1567.6 L790.5,1567.4 L792.5,1567.2 L794.5,1566.9 L796.5,1566.7 L798.5,1566.5 L800.5,1566.2 L802.5,1566.0 L804.4,1565.7 L806.4,1565.4 L808.4,1565.2 L810.4,1564.9 L812.4,1564.6 L814.3,1564.3 L816.3,1564.0 L818.3,1563.7 L820.3,1563.4 L822.2,1563.1 L824.2,1562.8 L826.2,1562.4 L828.1,1562.1 L830.1,1561.7 L832.1,1561.4 L834.0,1561.0 L836.0,1560.7 L838.0,1560.3 L839.9,1559.9 L841.9,1559.5 L843.8,1559.1 L845.8,1558.7 L847.7,1558.3 L849.7,1557.9 L851.6,1557.4 L853.6,1557.0 L855.5,1556.5 L857.5,1556.1 L859.4,1555.6 L861.4,1555.2 L863.3,1554.7 L865.2,1554.2 L867.2,1553.7 L869.1,1553.2 L871.0,1552.7 L873.0,1552.2 L874.9,1551.7 L876.8,1551.1 L878.7,1550.6 L880.7,1550.0 L882.6,1549.5 L884.5,1548.9 L886.4,1548.3 L888.3,1547.7 L890.2,1547.1 L892.1,1546.5 L894.0,1545.9 L896.0,1545.3 L897.9,1544.7 L899.7,1544.0 L901.6,1543.4 L903.5,1542.7 L905.4,1542.1 L907.3,1541.4 L909.2,1540.7 L911.1,1540.0 L913.0,1539.3 L914.8,1538.6 L916.7,1537.9 L918.6,1537.2 L920.5,1536.4 L922.3,1535.7 L924.2,1534.9 L926.0,1534.2 L927.9,1533.4 L929.7,1532.6 L931.6,1531.8 L933.4,1531.0 L935.2,1530.1 L937.1,1529.3 L938.9,1528.5 L940.7,1527.6 L942.5,1526.8 L944.3,1525.9 L946.1,1525.0 L947.9,1524.1 L949.7,1523.2 L951.5,1522.3 L953.2,1521.3 L955.0,1520.4 L956.7,1519.4 L958.5,1518.4 L960.2,1517.5 L961.9,1516.5 L963.6,1515.5 L965.3,1514.4 L967.0,1513.4 L968.7,1512.4 L970.4,1511.3 L972.0,1510.2 L973.7,1509.1 L975.3,1508.0 L976.9,1506.9 L978.6,1505.8 L980.2,1504.6 L981.7,1503.5 L983.3,1502.3 L984.9,1501.1 L986.4,1499.9 L988.0,1498.7 L989.5,1497.5 L991.0,1496.2 L992.5,1495.0 L994.0,1493.7 L995.5,1492.4 L996.9,1491.1 L998.3,1489.8 L999.8,1488.5 L1001.2,1487.1 L1002.6,1485.8 L1003.9,1484.4 L1005.3,1483.0 L1006.6,1481.6 L1007.9,1480.1 L1009.3,1478.7 L1010.5,1477.2 L1011.8,1475.7 L1013.1,1474.2 L1014.3,1472.7 L1015.5,1471.2 L1016.7,1469.6 L1017.9,1468.1 L1019.0,1466.5 L1020.2,1464.9 L1021.3,1463.3 L1022.4,1461.6 L1023.5,1460.0 L1024.5,1458.3 L1025.6,1456.6 L1026.6,1454.9 L1027.6,1453.2 L1028.6,1451.5 L1029.6,1449.8 L1030.6,1448.0 L1031.5,1446.2 L1032.4,1444.5 L1033.3,1442.7 L1034.2,1440.9 L1035.1,1439.1 L1036.0,1437.2 L1036.9,1435.4 L1037.7,1433.6 L1038.5,1431.7 L1039.3,1429.8 L1040.1,1428.0 L1040.9,1426.1 L1041.7,1424.2 L1042.5,1422.3 L1043.2,1420.4 L1044.0,1418.5 L1044.7,1416.6 L1045.5,1414.7 L1046.2,1412.8 L1046.9,1410.8 L1047.6,1408.9 L1048.3,1407.0 L1048.9,1405.0 L1049.6,1403.1 L1050.3,1401.2 L1050.9,1399.2 L1051.6,1397.3 L1052.2,1395.3 L1052.9,1393.4 L1053.5,1391.4 L1054.1,1389.5 L1054.7,1387.6 L1055.4,1385.6 L1056.0,1383.7 L1056.6,1381.7 L1057.2,1379.8 L1057.8,1377.8 L1058.3,1375.9 L1058.9,1374.0 L1059.5,1372.0 L1060.1,1370.1 L1060.6,1368.1 L1061.2,1366.2 L1061.8,1364.2 L1062.3,1362.3 L1062.9,1360.4 L1063.4,1358.4 L1063.9,1356.5 L1064.5,1354.6 L1065.0,1352.6 L1065.5,1350.7 L1066.1,1348.7 L1066.6,1346.8 L1067.1,1344.9 L1067.6,1342.9 L1068.1,1341.0 L1068.6,1339.1 L1069.1,1337.1 L1069.6,1335.2 L1070.1,1333.2 L1070.6,1331.3 L1071.0,1329.4 L1071.5,1327.4 L1072.0,1325.5 L1072.5,1323.6 L1072.9,1321.6 L1073.4,1319.7 L1073.8,1317.8 L1074.3,1315.8 L1074.7,1313.9 L1075.2,1311.9 L1075.6,1310.0 L1076.1,1308.1 L1076.5,1306.1 L1077.0,1304.2 L1077.4,1302.3 L1077.8,1300.3 L1078.2,1298.4 L1078.7,1296.5 L1079.1,1294.5 L1079.5,1292.6 L1079.9,1290.6 L1080.3,1288.7 L1080.8,1286.8 L1081.2,1284.8 L1081.6,1282.9 L1082.0,1280.9 L1082.4,1279.0 L1082.8,1277.1 L1083.2,1275.1 L1083.6,1273.2 L1084.0,1271.2 L1084.3,1269.3 L1084.7,1267.4 L1085.1,1265.4 L1085.5,1263.5 L1085.9,1261.5 L1086.3,1259.6 L1086.7,1257.6 L1087.0,1255.7 L1087.4,1253.7 L1087.8,1251.8 L1088.2,1249.9 L1088.5,1247.9 L1088.9,1246.0 L1089.3,1244.0 L1089.6,1242.1 L1090.0,1240.1 L1090.4,1238.2 L1090.7,1236.2 L1091.1,1234.3 L1091.5,1232.3 L1091.8,1230.3 L1092.2,1228.4 L1092.6,1226.4 L1092.9,1224.5 L1093.3,1222.5 L1093.6,1220.6 L1094.0,1218.6 L1094.4,1216.7 L1094.7,1214.7 L1095.1,1212.7 L1095.4,1210.8 L1095.8,1208.8 L1096.1,1206.9 L1096.5,1204.9 L1096.8,1202.9 L1097.2,1201.0 L1097.6,1199.0 L1097.9,1197.0 L1098.3,1195.1 L1098.6,1193.1 L1099.0,1191.1 L1099.3,1189.2 L1099.7,1187.2 L1100.0,1185.2 L1100.4,1183.3 L1100.7,1181.3 L1101.1,1179.3 L1101.4,1177.4 L1101.8,1175.4 L1102.1,1173.4 L1102.5,1171.4 L1102.8,1169.5 L1103.1,1167.5 L1103.5,1165.5 L1103.8,1163.5 L1104.2,1161.6 L1104.5,1159.6 L1104.9,1157.6 L1105.2,1155.7 L1105.6,1153.7 L1105.9,1151.7 L1106.3,1149.7 L1106.6,1147.8 L1106.9,1145.8 L1107.3,1143.8 L1107.6,1141.8 L1108.0,1139.8 L1108.3,1137.9 L1108.7,1135.9 L1109.0,1133.9 L1109.3,1131.9 L1109.7,1130.0 L1110.0,1128.0 L1110.4,1126.0 L1110.7,1124.0 L1111.1,1122.0 L1111.4,1120.1 L1111.7,1118.1 L1112.1,1116.1 L1112.4,1114.1 L1112.8,1112.2 L1113.1,1110.2 L1113.4,1108.2 L1113.8,1106.2 L1114.1,1104.2 L1114.5,1102.3 L1114.8,1100.3 L1115.2,1098.3 L1115.5,1096.3 L1115.8,1094.3 L1116.2,1092.4 L1116.5,1090.4 L1116.9,1088.4 L1117.2,1086.4 L1117.6,1084.5 L1117.9,1082.5 L1118.2,1080.5 L1118.6,1078.5 L1118.9,1076.5 L1119.3,1074.6 L1119.6,1072.6 L1120.0,1070.6 L1120.3,1068.6 L1120.7,1066.7 L1121.0,1064.7 L1121.3,1062.7 L1121.7,1060.7 L1122.0,1058.8 L1122.4,1056.8 L1122.7,1054.8 L1123.1,1052.8 L1123.4,1050.9 L1123.8,1048.9 L1124.1,1046.9 L1124.5,1044.9 L1124.8,1043.0 L1125.2,1041.0 L1125.5,1039.0 L1125.9,1037.1 L1126.2,1035.1 L1126.6,1033.1 L1126.9,1031.1 L1127.3,1029.2 L1127.6,1027.2 L1128.0,1025.2 L1128.4,1023.3 L1128.7,1021.3 L1129.1,1019.3 L1129.4,1017.4 L1129.8,1015.4 L1130.1,1013.4 L1130.5,1011.5 L1130.9,1009.5 L1131.2,1007.6 L1131.6,1005.6 L1131.9,1003.6 L1132.3,1001.7 L1132.7,999.7 L1133.0,997.7 L1133.4,995.8 L1133.7,993.8 L1134.1,991.9 L1134.5,989.9 L1134.8,988.0 L1135.2,986.0 L1135.6,984.0 L1136.0,982.1 L1136.3,980.1 L1136.7,978.2 L1137.1,976.2 L1137.4,974.3 L1137.8,972.3 L1138.2,970.4 L1138.6,968.4 L1139.0,966.5 L1139.3,964.5 L1139.7,962.6 L1140.1,960.6 L1140.5,958.7 L1140.9,956.7 L1141.3,954.8 L1141.7,952.8 L1142.1,950.9 L1142.5,948.9 L1142.9,947.0 L1143.3,945.0 L1143.7,943.1 L1144.1,941.1 L1144.5,939.2 L1144.9,937.2 L1145.3,935.3 L1145.7,933.4 L1146.1,931.4 L1146.6,929.5 L1147.0,927.5 L1147.4,925.6 L1147.8,923.6 L1148.3,921.7 L1148.7,919.7 L1149.1,917.8 L1149.6,915.8 L1150.0,913.9 L1150.5,912.0 L1150.9,910.0 L1151.4,908.1 L1151.8,906.1 L1152.3,904.2 L1152.7,902.2 L1153.2,900.3 L1153.7,898.3 L1154.1,896.4 L1154.6,894.5 L1155.1,892.5 L1155.6,890.6 L1156.0,888.6 L1156.5,886.7 L1157.0,884.7 L1157.5,882.8 L1158.0,880.8 L1158.5,878.9 L1159.0,876.9 L1159.5,875.0 L1160.0,873.1 L1160.6,871.1 L1161.1,869.2 L1161.6,867.2 L1162.1,865.3 L1162.7,863.3 L1163.2,861.4 L1163.7,859.4 L1164.3,857.5 L1164.8,855.5 L1165.3,853.6 L1165.9,851.6 L1166.4,849.7 L1166.9,847.8 L1167.5,845.8 L1168.0,843.9 L1168.5,842.0 L1169.0,840.0 L1169.6,838.1 L1170.1,836.2 L1170.6,834.2 L1171.1,832.3 L1171.6,830.4 L1172.1,828.5 L1172.5,826.5 L1173.0,824.6 L1173.5,822.7 L1174.0,820.8 L1174.4,818.9 L1174.9,817.0 L1175.3,815.1 L1175.7,813.2 L1176.2,811.3 L1176.7,809.4 L1177.1,807.5 L1177.6,805.6 L1178.1,803.7 L1178.6,801.8 L1179.1,799.9 L1179.7,798.0 L1180.2,796.1 L1180.8,794.2 L1181.5,792.3 L1182.1,790.4 L1182.9,788.5 L1183.6,786.6 L1184.4,784.6 L1185.2,782.7 L1186.1,780.7 L1187.0,778.8 L1188.0,776.8 L1189.1,774.9 L1190.2,773.0 L1191.3,771.1 L1192.5,769.3 L1193.8,767.6 L1195.1,766.0 L1196.5,764.5 L1197.9,763.2 L1199.4,762.1 L1200.9,761.1 L1202.5,760.4 L1204.2,759.9 L1205.8,759.6 L1207.6,759.7 L1209.4,759.9 L1211.2,760.4 L1212.9,761.1 L1214.7,762.0 L1216.4,763.1 L1218.0,764.3 L1219.6,765.7 L1221.1,767.2 L1222.4,768.8 L1223.6,770.5 L1224.6,772.3 L1225.6,774.1 L1226.4,776.0 L1227.1,777.9 L1227.8,779.8 L1228.4,781.8 L1228.9,783.8 L1229.5,785.8 L1230.0,787.8 L1230.6,789.8 L1231.2,791.8 L1231.7,793.7 L1232.3,795.7 L1232.9,797.7 L1233.5,799.6 L1234.1,801.6 L1234.7,803.5 L1235.3,805.4 L1235.9,807.3 L1236.5,809.3 L1237.2,811.2 L1237.8,813.1 L1238.4,815.0 L1239.0,816.9 L1239.7,818.8 L1240.3,820.7 L1240.9,822.6 L1241.5,824.5 L1242.2,826.4 L1242.8,828.3 L1243.4,830.2 L1244.0,832.1 L1244.6,834.0 L1245.2,835.9 L1245.8,837.8 L1246.4,839.7 L1247.0,841.5 L1247.6,843.4 L1248.2,845.3 L1248.8,847.3 L1249.3,849.2 L1249.9,851.1 L1250.5,853.0 L1251.0,854.9 L1251.6,856.8 L1252.1,858.7 L1252.7,860.6 L1253.2,862.5 L1253.7,864.4 L1254.3,866.3 L1254.8,868.3 L1255.3,870.2 L1255.8,872.1 L1256.3,874.0 L1256.8,875.9 L1257.3,877.9 L1257.8,879.8 L1258.3,881.7 L1258.8,883.6 L1259.3,885.6 L1259.8,887.5 L1260.3,889.4 L1260.8,891.4 L1261.2,893.3 L1261.7,895.2 L1262.2,897.2 L1262.6,899.1 L1263.1,901.0 L1263.6,903.0 L1264.0,904.9 L1264.5,906.9 L1264.9,908.8 L1265.4,910.7 L1265.8,912.7 L1266.2,914.6 L1266.7,916.6 L1267.1,918.5 L1267.5,920.5 L1268.0,922.4 L1268.4,924.3 L1268.8,926.3 L1269.2,928.2 L1269.7,930.2 L1270.1,932.1 L1270.5,934.1 L1270.9,936.0 L1271.3,938.0 L1271.7,940.0 L1272.1,941.9 L1272.6,943.9 L1273.0,945.8 L1273.4,947.8 L1273.8,949.7 L1274.2,951.7 L1274.6,953.6 L1275.0,955.6 L1275.4,957.6 L1275.8,959.5 L1276.2,961.5 L1276.5,963.4 L1276.9,965.4 L1277.3,967.3 L1277.7,969.3 L1278.1,971.3 L1278.5,973.2 L1278.9,975.2 L1279.3,977.2 L1279.7,979.1 L1280.1,981.1 L1280.5,983.0 L1280.8,985.0 L1281.2,987.0 L1281.6,988.9 L1282.0,990.9 L1282.4,992.9 L1282.8,994.8 L1283.2,996.8 L1283.6,998.7 L1284.0,1000.7 L1284.3,1002.7 L1284.7,1004.6 L1285.1,1006.6 L1285.5,1008.6 L1285.9,1010.5 L1286.3,1012.5 L1286.7,1014.5 L1287.1,1016.4 L1287.5,1018.4 L1287.9,1020.4 L1288.3,1022.3 L1288.7,1024.3 L1289.1,1026.2 L1289.5,1028.2 L1289.9,1030.2 L1290.3,1032.1 L1290.7,1034.1 L1291.1,1036.1 L1291.5,1038.0 L1291.9,1040.0 L1292.3,1041.9 L1292.8,1043.9 L1293.2,1045.9 L1293.6,1047.8 L1294.0,1049.8 L1294.4,1051.8 L1294.9,1053.7 L1295.3,1055.7 L1295.7,1057.6 L1296.2,1059.6 L1296.6,1061.6 L1297.0,1063.5 L1297.5,1065.5 L1297.9,1067.4 L1298.3,1069.4 L1298.8,1071.3 L1299.2,1073.3 L1299.7,1075.3 L1300.1,1077.2 L1300.6,1079.2 L1301.0,1081.1 L1301.5,1083.1 L1301.9,1085.0 L1302.4,1087.0 L1302.8,1088.9 L1303.3,1090.9 L1303.7,1092.9 L1304.2,1094.8 L1304.6,1096.8 L1305.1,1098.7 L1305.5,1100.7 L1306.0,1102.6 L1306.4,1104.6 L1306.9,1106.5 L1307.4,1108.5 L1307.8,1110.4 L1308.3,1112.4 L1308.7,1114.3 L1309.2,1116.3 L1309.7,1118.2 L1310.1,1120.2 L1310.6,1122.1 L1311.0,1124.1 L1311.5,1126.0 L1311.9,1128.0 L1312.4,1129.9 L1312.9,1131.9 L1313.3,1133.8 L1313.8,1135.8 L1314.2,1137.7 L1314.7,1139.7 L1315.1,1141.6 L1315.6,1143.6 L1316.0,1145.5 L1316.5,1147.5 L1316.9,1149.4 L1317.4,1151.4 L1317.8,1153.3 L1318.3,1155.3 L1318.7,1157.2 L1319.2,1159.2 L1319.6,1161.1 L1320.0,1163.1 L1320.5,1165.0 L1320.9,1167.0 L1321.3,1168.9 L1321.8,1170.9 L1322.2,1172.8 L1322.6,1174.8 L1323.1,1176.7 L1323.5,1178.7 L1323.9,1180.6 L1324.3,1182.5 L1324.8,1184.5 L1325.2,1186.4 L1325.6,1188.4 L1326.0,1190.3 L1326.4,1192.3 L1326.8,1194.2 L1327.2,1196.2 L1327.6,1198.1 L1328.0,1200.1 L1328.4,1202.0 L1328.8,1204.0 L1329.2,1205.9 L1329.6,1207.9 L1330.0,1209.8 L1330.4,1211.8 L1330.8,1213.7 L1331.1,1215.7 L1331.5,1217.6 L1331.9,1219.5 L1332.3,1221.5 L1332.7,1223.4 L1333.0,1225.4 L1333.4,1227.3 L1333.8,1229.3 L1334.2,1231.2 L1334.6,1233.2 L1334.9,1235.1 L1335.3,1237.1 L1335.7,1239.0 L1336.1,1240.9 L1336.5,1242.9 L1336.8,1244.8 L1337.2,1246.8 L1337.6,1248.7 L1338.0,1250.7 L1338.4,1252.6 L1338.8,1254.5 L1339.1,1256.5 L1339.5,1258.4 L1339.9,1260.4 L1340.3,1262.3 L1340.7,1264.3 L1341.1,1266.2 L1341.5,1268.1 L1341.9,1270.1 L1342.3,1272.0 L1342.7,1274.0 L1343.1,1275.9 L1343.6,1277.8 L1344.0,1279.8 L1344.4,1281.7 L1344.8,1283.6 L1345.2,1285.6 L1345.7,1287.5 L1346.1,1289.4 L1346.5,1291.4 L1347.0,1293.3 L1347.4,1295.3 L1347.9,1297.2 L1348.3,1299.1 L1348.8,1301.0 L1349.2,1303.0 L1349.7,1304.9 L1350.2,1306.8 L1350.7,1308.8 L1351.1,1310.7 L1351.6,1312.6 L1352.1,1314.6 L1352.6,1316.5 L1353.1,1318.4 L1353.6,1320.3 L1354.1,1322.3 L1354.7,1324.2 L1355.2,1326.1 L1355.7,1328.0 L1356.3,1330.0 L1356.8,1331.9 L1357.4,1333.8 L1357.9,1335.7 L1358.5,1337.6 L1359.1,1339.6 L1359.7,1341.5 L1360.3,1343.4 L1360.9,1345.3 L1361.5,1347.2 L1362.1,1349.1 L1362.7,1351.1 L1363.3,1353.0 L1364.0,1354.9 L1364.6,1356.8 L1365.3,1358.7 L1365.9,1360.6 L1366.6,1362.5 L1367.3,1364.4 L1368.0,1366.3 L1368.7,1368.2 L1369.4,1370.2 L1370.1,1372.1 L1370.8,1374.0 L1371.5,1375.9 L1372.3,1377.7 L1373.0,1379.6 L1373.8,1381.5 L1374.5,1383.4 L1375.3,1385.3 L1376.1,1387.2 L1376.9,1389.1 L1377.7,1390.9 L1378.5,1392.8 L1379.3,1394.7 L1380.1,1396.5 L1381.0,1398.4 L1381.8,1400.3 L1382.7,1402.1 L1383.5,1404.0 L1384.4,1405.8 L1385.3,1407.6 L1386.2,1409.5 L1387.1,1411.3 L1388.0,1413.1 L1388.9,1415.0 L1389.8,1416.8 L1390.8,1418.6 L1391.7,1420.4 L1392.7,1422.2 L1393.6,1424.0 L1394.6,1425.8 L1395.6,1427.6 L1396.6,1429.3 L1397.6,1431.1 L1398.6,1432.9 L1399.6,1434.6 L1400.6,1436.4 L1401.7,1438.1 L1402.7,1439.8 L1403.8,1441.6 L1404.8,1443.3 L1405.9,1445.0 L1407.0,1446.7 L1408.1,1448.4 L1409.2,1450.1 L1410.3,1451.8 L1411.4,1453.5 L1412.5,1455.1 L1413.7,1456.8 L1414.8,1458.4 L1416.0,1460.1 L1417.2,1461.7 L1418.3,1463.3 L1419.5,1464.9 L1420.7,1466.5 L1421.9,1468.1 L1423.1,1469.7 L1424.4,1471.3 L1425.6,1472.9 L1426.8,1474.4 L1428.1,1476.0 L1429.4,1477.5 L1430.6,1479.0 L1431.9,1480.5 L1433.2,1482.0 L1434.5,1483.5 L1435.8,1485.0 L1437.2,1486.5 L1438.5,1488.0 L1439.8,1489.4 L1441.2,1490.8 L1442.6,1492.3 L1443.9,1493.7 L1445.3,1495.1 L1446.7,1496.5 L1448.1,1497.9 L1449.5,1499.2 L1451.0,1500.6 L1452.4,1501.9 L1453.8,1503.2 L1455.3,1504.6 L1456.7,1505.9 L1458.2,1507.1 L1459.7,1508.4 L1461.2,1509.7 L1462.7,1510.9 L1464.2,1512.2 L1465.8,1513.4 L1467.3,1514.6 L1468.8,1515.8 L1470.4,1517.0 L1472.0,1518.1 L1473.5,1519.3 L1475.1,1520.4 L1476.7,1521.5 L1478.3,1522.6 L1479.9,1523.7 L1481.6,1524.8 L1483.2,1525.9 L1484.9,1526.9 L1486.5,1527.9 L1488.2,1528.9 L1489.9,1529.9 L1491.6,1530.9 L1493.3,1531.9 L1495.0,1532.8 L1496.7,1533.8 L1498.5,1534.7 L1500.2,1535.6 L1502.0,1536.4 L1503.7,1537.3 L1505.5,1538.1 L1507.3,1539.0 L1509.1,1539.8 L1510.9,1540.6 L1512.7,1541.4 L1514.6,1542.1 L1516.4,1542.9 L1518.3,1543.6 L1520.1,1544.3 L1522.0,1545.0 L1523.9,1545.6 L1525.8,1546.3 L1527.7,1546.9 L1529.6,1547.5 L1531.5,1548.2 L1533.4,1548.7 L1535.4,1549.3 L1537.3,1549.9 L1539.2,1550.4 L1541.2,1550.9 L1543.2,1551.5 L1545.1,1552.0 L1547.1,1552.5 L1549.1,1552.9 L1551.1,1553.4 L1553.1,1553.8 L1555.1,1554.3 L1557.1,1554.7 L1559.1,1555.1 L1561.1,1555.5 L1563.1,1555.9 L1565.1,1556.3 L1567.1,1556.7 L1569.1,1557.0 L1571.2,1557.4 L1573.2,1557.7 L1575.2,1558.1 L1577.2,1558.4 L1579.3,1558.7 L1581.3,1559.0 L1583.3,1559.3 L1585.3,1559.6 L1587.4,1559.9 L1589.4,1560.1 L1591.4,1560.4 L1593.4,1560.7 L1595.5,1560.9 L1597.5,1561.2 L1599.5,1561.4 L1601.5,1561.6 L1603.6,1561.9 L1605.6,1562.1 L1607.6,1562.3 L1609.6,1562.5 L1611.6,1562.7 L1613.6,1562.9 L1615.6,1563.1 L1617.6,1563.3 L1619.6,1563.5 L1621.6,1563.7 L1623.6,1563.8 L1625.6,1564.0 L1627.6,1564.2 L1629.6,1564.3 L1631.5,1564.5 L1633.5,1564.6 L1635.5,1564.8 L1637.5,1564.9 L1639.5,1565.1 L1641.5,1565.2 L1643.4,1565.3 L1645.4,1565.4 L1647.4,1565.6 L1649.4,1565.7 L1651.4,1565.8 L1653.3,1565.9 L1655.3,1566.0 L1657.3,1566.1 L1659.3,1566.2 L1661.2,1566.3 L1663.2,1566.3 L1665.2,1566.4 L1667.2,1566.5 L1669.1,1566.6 L1671.1,1566.6 L1673.1,1566.7 L1675.0,1566.7 L1677.0,1566.8 L1679.0,1566.8 L1681.0,1566.9 L1682.9,1566.9 L1684.9,1567.0 L1686.9,1567.0 L1688.9,1567.0 L1690.8,1567.1 L1692.8,1567.1 L1694.8,1567.1 L1696.8,1567.1 L1698.7,1567.1 L1700.7,1567.1 L1702.7,1567.1 L1704.7,1567.1 L1706.7,1567.1 L1708.7,1567.1 L1710.6,1567.1 L1712.6,1567.1 L1714.6,1567.1 L1716.6,1567.1 L1718.6,1567.1 L1720.6,1567.0 L1722.6,1567.0 L1724.6,1567.0 L1726.6,1567.0 L1728.5,1566.9 L1730.5,1566.9 L1732.5,1566.9 L1734.5,1566.8 L1736.5,1566.8 L1738.5,1566.8 L1740.5,1566.7 L1742.5,1566.7 L1744.5,1566.7 L1746.5,1566.6 L1748.5,1566.6 L1750.5,1566.5 L1752.5,1566.5 L1754.5,1566.5 L1756.5,1566.4 L1758.5,1566.4 L1760.6,1566.3 L1762.6,1566.3 L1764.6,1566.3 L1766.6,1566.2 L1768.6,1566.2 L1770.6,1566.2 L1772.6,1566.1 L1774.6,1566.1 L1776.6,1566.1 L1778.6,1566.1 L1780.6,1566.0 L1782.6,1566.0 L1784.6,1566.0 L1786.6,1566.0 L1788.6,1566.0 L1790.6,1565.9 L1792.6,1565.9 L1794.7,1565.9 L1796.7,1565.9 L1798.7,1565.9 L1800.7,1565.9 L1802.7,1565.9 L1804.7,1566.0 L1806.7,1566.0 L1808.7,1566.0 L1810.7,1566.0 L1812.7,1566.0 L1814.7,1566.1 L1816.7,1566.1 L1818.7,1566.1 L1820.7,1566.2 L1822.7,1566.2 L1824.7,1566.3 L1826.7,1566.4 L1828.7,1566.4 L1830.7,1566.5 L1832.7,1566.6 L1834.7,1566.6 L1836.7,1566.7 L1838.7,1566.8 L1840.7,1566.9 L1842.7,1567.0 L1844.7,1567.1 L1846.7,1567.2 L1848.7,1567.3 L1850.6,1567.4 L1852.6,1567.5 L1854.6,1567.6 L1856.6,1567.7 L1858.6,1567.8 L1860.6,1567.9 L1862.6,1568.0 L1864.6,1568.1 L1866.6,1568.2 L1868.6,1568.4 L1870.6,1568.5 L1872.6,1568.6 L1874.6,1568.7 L1876.5,1568.9 L1878.5,1569.0 L1880.5,1569.1 L1882.5,1569.2 L1884.5,1569.4 L1886.5,1569.5 L1888.5,1569.6 L1890.5,1569.8 L1892.5,1569.9 L1894.5,1570.0 L1896.4,1570.2 L1898.4,1570.3 L1900.4,1570.4 L1902.4,1570.5 L1904.4,1570.7 L1906.4,1570.8 L1908.4,1570.9 L1910.4,1571.1 L1912.4,1571.2 L1914.4,1571.3 L1916.3,1571.5 L1918.3,1571.6 L1920.3,1571.7 L1922.3,1571.8 L1924.3,1572.0 L1926.3,1572.1 L1928.3,1572.2 L1930.3,1572.3 L1932.3,1572.4 L1934.3,1572.5 L1936.2,1572.6 L1938.2,1572.8 L1940.2,1572.9 L1942.2,1573.0 L1944.2,1573.1 L1946.2,1573.2 L1948.2,1573.3 L1950.2,1573.4 L1952.2,1573.4 L1954.2,1573.5 L1956.2,1573.6 L1958.2,1573.7 L1960.1,1573.8 L1962.1,1573.8 L1964.1,1573.9 L1966.1,1574.0 L1968.1,1574.0 L1970.1,1574.1 L1972.1,1574.1 L1974.1,1574.2 L1976.1,1574.2 L1978.1,1574.3 L1980.1,1574.3 L1982.1,1574.3 L1984.1,1574.4 L1986.1,1574.4 L1988.1,1574.4 L1990.1,1574.4 L1992.1,1574.4 L1994.1,1574.5 L1996.1,1574.5 L1998.1,1574.5 L2000.1,1574.5 L2002.1,1574.5 L2004.1,1574.5 L2006.1,1574.5 L2008.1,1574.4 L2010.1,1574.4 L2012.1,1574.4 L2014.1,1574.4 L2016.1,1574.4 L2018.1,1574.4 L2020.1,1574.4 L2022.1,1574.3 L2024.1,1574.3 L2026.1,1574.3 L2028.1,1574.3 L2030.1,1574.2 L2032.1,1574.2 L2034.1,1574.2 L2036.1,1574.2 L2038.1,1574.1 L2040.1,1574.1 L2042.1,1574.1 L2044.1,1574.1 L2046.1,1574.0 L2048.1,1574.0 L2050.1,1574.0 L2052.1,1574.0 L2054.1,1574.0 L2056.1,1573.9 L2058.1,1573.9 L2060.1,1573.9 L2062.1,1573.9 L2064.1,1573.9 L2066.1,1573.8 L2068.1,1573.8 L2070.2,1573.8 L2072.2,1573.8 L2074.2,1573.8 L2076.2,1573.8 L2078.2,1573.8 L2080.2,1573.8 L2082.2,1573.7 L2084.2,1573.7 L2086.2,1573.7 L2088.2,1573.7 L2090.2,1573.7 L2092.2,1573.7 L2094.2,1573.7 L2096.2,1573.7 L2098.2,1573.7 L2100.2,1573.7 L2102.2,1573.7 L2104.2,1573.7 L2106.2,1573.7 L2108.2,1573.6 L2110.2,1573.6 L2112.2,1573.6 L2114.2,1573.6 L2116.2,1573.6 L2118.2,1573.6 L2120.2,1573.6 L2122.1,1573.6 L2124.1,1573.6 L2126.1,1573.6 L2128.1,1573.6 L2130.1,1573.6 L2132.1,1573.6 L2134.1,1573.6 L2136.1,1573.6 L2138.1,1573.6 L2140.1,1573.6 L2142.1,1573.6 L2144.1,1573.7 L2146.1,1573.7 L2148.1,1573.7 L2150.1,1573.7 L2152.1,1573.7 L2154.1,1573.7 L2156.1,1573.7 L2158.1,1573.7 L2160.1,1573.7 L2162.1,1573.7 L2164.1,1573.7 L2166.1,1573.7 L2168.1,1573.7 L2170.1,1573.7 L2172.1,1573.7 L2174.1,1573.7 L2176.1,1573.7 L2178.1,1573.8 L2180.1,1573.8 L2182.1,1573.8 L2184.1,1573.8 L2186.1,1573.8 L2188.1,1573.8 L2190.1,1573.8 L2192.1,1573.8 L2194.1,1573.8 L2196.1,1573.8 L2198.1,1573.8 L2200.1,1573.8 L2202.1,1573.9 L2204.1,1573.9 L2206.1,1573.9 L2208.1,1573.9 L2210.1,1573.9 L2212.1,1573.9 L2214.1,1573.9 L2216.1,1573.9 L2218.1,1573.9 L2220.1,1573.9 L2222.1,1573.9 L2224.1,1574.0 L2226.1,1574.0 L2228.1,1574.0 L2230.1,1574.0 L2232.1,1574.0 L2234.1,1574.0 L2236.1,1574.0 L2238.1,1574.0 L2240.0,1574.0 L2242.0,1574.0 L2244.0,1574.0 L2246.0,1574.0 L2248.0,1574.0 L2250.0,1574.1 L2252.0,1574.1 L2254.0,1574.1 L2256.0,1574.1 L2258.0,1574.1 L2260.0,1574.1 L2262.0,1574.1 L2264.0,1574.1 L2266.0,1574.1 L2268.0,1574.1 L2270.0,1574.1 L2272.0,1574.1 L2274.0,1574.1 L2276.0,1574.1 L2278.0,1574.1 L2280.0,1574.1 L2282.0,1574.1 L2284.0,1574.1 L2286.0,1574.1 L2288.0,1574.1 L2290.0,1574.1 L2292.0,1574.1 L2294.0,1574.1 L2296.0,1574.1 L2298.0,1574.1 L2300.0,1574.1 L2302.0,1574.1 L2304.0,1574.1 L2306.0,1574.1 L2308.0,1574.1 L2310.0,1574.1 L2312.0,1574.1 L2314.0,1574.1 L2316.0,1574.1 L2318.0,1574.1 L2320.0,1574.1 L2322.0,1574.1 L2324.0,1574.1 L2326.0,1574.1 L2328.0,1574.1 L2330.0,1574.1 L2332.0,1574.1 L2334.0,1574.1 L2336.0,1574.0 L2338.0,1574.0 L2340.0,1574.0 L2342.0,1574.0 L2344.0,1574.0 L2346.0,1574.0 L2348.0,1574.0 L2350.0,1574.0 L2352.0,1573.9 L2354.0,1573.9 L2356.0,1573.9 L2358.0,1573.9 L2360.0,1573.9 L2362.0,1573.8 L2364.0,1573.8 L2366.0,1573.8 L2368.0,1573.8" fill="none" stroke="#FF8000" stroke-width="12" stroke-linecap="round" stroke-linejoin="round"/>
<path d="M292.7,1572.4 L294.4,1572.4 L296.1,1572.4 L297.8,1572.4 L299.5,1572.4 L301.3,1572.3 L303.1,1572.3 L305.0,1572.2 L306.9,1572.2 L308.8,1572.1 L310.7,1572.0 L312.7,1571.9 L314.7,1571.8 L316.7,1571.7 L318.7,1571.5 L320.7,1571.4 L322.8,1571.2 L324.8,1571.0 L326.9,1570.8 L329.0,1570.6 L331.1,1570.3 L333.2,1570.1 L335.3,1569.8 L337.4,1569.5 L339.6,1569.2 L341.7,1568.8 L343.8,1568.5 L345.9,1568.1 L348.0,1567.6 L350.1,1567.2 L352.2,1566.7 L354.2,1566.2 L356.3,1565.7 L358.3,1565.2 L360.4,1564.6 L362.4,1564.0 L364.4,1563.3 L366.3,1562.7 L368.3,1562.0 L370.2,1561.2 L372.1,1560.5 L373.9,1559.7 L375.8,1558.8 L377.6,1558.0 L379.3,1557.1 L381.0,1556.1 L382.7,1555.1 L384.4,1554.1 L386.0,1553.0 L387.5,1551.9 L389.1,1550.8 L390.5,1549.6 L392.0,1548.4 L393.4,1547.1 L394.7,1545.8 L396.0,1544.5 L397.3,1543.1 L398.5,1541.7 L399.7,1540.3 L400.8,1538.8 L402.0,1537.4 L403.0,1535.8 L404.1,1534.3 L405.1,1532.7 L406.1,1531.1 L407.1,1529.4 L408.0,1527.8 L408.9,1526.1 L409.7,1524.4 L410.6,1522.6 L411.4,1520.9 L412.2,1519.1 L413.0,1517.3 L413.7,1515.5 L414.4,1513.7 L415.1,1511.8 L415.8,1510.0 L416.5,1508.1 L417.1,1506.2 L417.8,1504.3 L418.4,1502.4 L419.0,1500.5 L419.6,1498.6 L420.2,1496.6 L420.7,1494.7 L421.3,1492.7 L421.8,1490.8 L422.4,1488.8 L422.9,1486.8 L423.4,1484.9 L423.9,1482.9 L424.4,1480.9 L424.9,1479.0 L425.4,1477.0 L425.9,1475.0 L426.4,1473.1 L426.9,1471.1 L427.4,1469.1 L427.9,1467.2 L428.4,1465.2 L428.8,1463.2 L429.3,1461.2 L429.8,1459.3 L430.2,1457.3 L430.7,1455.3 L431.2,1453.3 L431.6,1451.4 L432.0,1449.4 L432.5,1447.4 L432.9,1445.5 L433.4,1443.5 L433.8,1441.5 L434.2,1439.5 L434.6,1437.6 L435.1,1435.6 L435.5,1433.6 L435.9,1431.6 L436.3,1429.7 L436.7,1427.7 L437.1,1425.7 L437.5,1423.7 L437.9,1421.8 L438.3,1419.8 L438.6,1417.8 L439.0,1415.8 L439.4,1413.8 L439.8,1411.9 L440.1,1409.9 L440.5,1407.9 L440.9,1405.9 L441.2,1404.0 L441.6,1402.0 L442.0,1400.0 L442.3,1398.0 L442.6,1396.0 L443.0,1394.1 L443.3,1392.1 L443.7,1390.1 L444.0,1388.1 L444.3,1386.2 L444.7,1384.2 L445.0,1382.2 L445.3,1380.2 L445.6,1378.2 L445.9,1376.3 L446.3,1374.3 L446.6,1372.3 L446.9,1370.3 L447.2,1368.3 L447.5,1366.4 L447.8,1364.4 L448.1,1362.4 L448.4,1360.4 L448.6,1358.4 L448.9,1356.4 L449.2,1354.5 L449.5,1352.5 L449.8,1350.5 L450.0,1348.5 L450.3,1346.5 L450.6,1344.5 L450.8,1342.6 L451.1,1340.6 L451.4,1338.6 L451.6,1336.6 L451.9,1334.6 L452.1,1332.6 L452.4,1330.7 L452.6,1328.7 L452.9,1326.7 L453.1,1324.7 L453.4,1322.7 L453.6,1320.7 L453.8,1318.8 L454.1,1316.8 L454.3,1314.8 L454.5,1312.8 L454.8,1310.8 L455.0,1308.8 L455.2,1306.8 L455.4,1304.9 L455.7,1302.9 L455.9,1300.9 L456.1,1298.9 L456.3,1296.9 L456.5,1294.9 L456.7,1292.9 L456.9,1291.0 L457.1,1289.0 L457.3,1287.0 L457.5,1285.0 L457.7,1283.0 L457.9,1281.0 L458.1,1279.0 L458.3,1277.0 L458.5,1275.1 L458.7,1273.1 L458.9,1271.1 L459.1,1269.1 L459.2,1267.1 L459.4,1265.1 L459.6,1263.1 L459.8,1261.1 L460.0,1259.1 L460.1,1257.2 L460.3,1255.2 L460.5,1253.2 L460.6,1251.2 L460.8,1249.2 L461.0,1247.2 L461.1,1245.2 L461.3,1243.2 L461.5,1241.2 L461.6,1239.3 L461.8,1237.3 L462.0,1235.3 L462.1,1233.3 L462.3,1231.3 L462.4,1229.3 L462.6,1227.3 L462.7,1225.3 L462.9,1223.3 L463.0,1221.3 L463.2,1219.4 L463.3,1217.4 L463.5,1215.4 L463.6,1213.4 L463.8,1211.4 L463.9,1209.4 L464.0,1207.4 L464.2,1205.4 L464.3,1203.4 L464.5,1201.4 L464.6,1199.4 L464.7,1197.5 L464.9,1195.5 L465.0,1193.5 L465.1,1191.5 L465.3,1189.5 L465.4,1187.5 L465.5,1185.5 L465.7,1183.5 L465.8,1181.5 L465.9,1179.5 L466.1,1177.5 L466.2,1175.5 L466.3,1173.5 L466.5,1171.6 L466.6,1169.6 L466.7,1167.6 L466.8,1165.6 L467.0,1163.6 L467.1,1161.6 L467.2,1159.6 L467.3,1157.6 L467.5,1155.6 L467.6,1153.6 L467.7,1151.6 L467.8,1149.6 L467.9,1147.6 L468.1,1145.7 L468.2,1143.7 L468.3,1141.7 L468.4,1139.7 L468.6,1137.7 L468.7,1135.7 L468.8,1133.7 L468.9,1131.7 L469.0,1129.7 L469.2,1127.7 L469.3,1125.7 L469.4,1123.7 L469.5,1121.7 L469.6,1119.7 L469.8,1117.7 L469.9,1115.8 L470.0,1113.8 L470.1,1111.8 L470.3,1109.8 L470.4,1107.8 L470.5,1105.8 L470.6,1103.8 L470.7,1101.8 L470.9,1099.8 L471.0,1097.8 L471.1,1095.8 L471.2,1093.8 L471.4,1091.8 L471.5,1089.8 L471.6,1087.8 L471.7,1085.8 L471.9,1083.8 L472.0,1081.9 L472.1,1079.9 L472.2,1077.9 L472.4,1075.9 L472.5,1073.9 L472.6,1071.9 L472.7,1069.9 L472.9,1067.9 L473.0,1065.9 L473.1,1063.9 L473.2,1061.9 L473.4,1059.9 L473.5,1057.9 L473.6,1055.9 L473.7,1053.9 L473.9,1051.9 L474.0,1049.9 L474.1,1048.0 L474.2,1046.0 L474.4,1044.0 L474.5,1042.0 L474.6,1040.0 L474.8,1038.0 L474.9,1036.0 L475.0,1034.0 L475.1,1032.0 L475.3,1030.0 L475.4,1028.0 L475.5,1026.0 L475.7,1024.0 L475.8,1022.0 L475.9,1020.0 L476.0,1018.0 L476.2,1016.0 L476.3,1014.0 L476.4,1012.1 L476.6,1010.1 L476.7,1008.1 L476.8,1006.1 L476.9,1004.1 L477.1,1002.1 L477.2,1000.1 L477.3,998.1 L477.5,996.1 L477.6,994.1 L477.7,992.1 L477.8,990.1 L478.0,988.1 L478.1,986.1 L478.2,984.1 L478.4,982.1 L478.5,980.1 L478.6,978.1 L478.8,976.1 L478.9,974.1 L479.0,972.2 L479.1,970.2 L479.3,968.2 L479.4,966.2 L479.5,964.2 L479.7,962.2 L479.8,960.2 L479.9,958.2 L480.1,956.2 L480.2,954.2 L480.3,952.2 L480.4,950.2 L480.6,948.2 L480.7,946.2 L480.8,944.2 L481.0,942.2 L481.1,940.2 L481.2,938.2 L481.4,936.2 L481.5,934.2 L481.6,932.2 L481.8,930.2 L481.9,928.2 L482.0,926.3 L482.1,924.3 L482.3,922.3 L482.4,920.3 L482.5,918.3 L482.7,916.3 L482.8,914.3 L482.9,912.3 L483.1,910.3 L483.2,908.3 L483.3,906.3 L483.4,904.3 L483.6,902.3 L483.7,900.3 L483.8,898.3 L484.0,896.3 L484.1,894.3 L484.2,892.3 L484.3,890.3 L484.5,888.3 L484.6,886.3 L484.7,884.3 L484.9,882.3 L485.0,880.3 L485.1,878.3 L485.2,876.4 L485.4,874.4 L485.5,872.4 L485.6,870.4 L485.8,868.4 L485.9,866.4 L486.0,864.4 L486.1,862.4 L486.3,860.4 L486.4,858.4 L486.5,856.4 L486.7,854.4 L486.8,852.4 L486.9,850.4 L487.0,848.4 L487.2,846.4 L487.3,844.4 L487.4,842.4 L487.5,840.4 L487.7,838.4 L487.8,836.4 L487.9,834.4 L488.1,832.4 L488.2,830.4 L488.3,828.4 L488.4,826.4 L488.6,824.4 L488.7,822.4 L488.8,820.4 L488.9,818.4 L489.1,816.5 L489.2,814.5 L489.3,812.5 L489.4,810.5 L489.6,808.5 L489.7,806.5 L489.8,804.5 L489.9,802.5 L490.0,800.5 L490.2,798.5 L490.3,796.5 L490.4,794.5 L490.5,792.5 L490.7,790.5 L490.8,788.5 L490.9,786.5 L491.0,784.5 L491.1,782.5 L491.3,780.5 L491.4,778.5 L491.5,776.5 L491.6,774.5 L491.8,772.5 L491.9,770.5 L492.0,768.5 L492.1,766.5 L492.2,764.5 L492.4,762.5 L492.5,760.5 L492.6,758.5 L492.7,756.5 L492.8,754.5 L492.9,752.5 L493.1,750.5 L493.2,748.5 L493.3,746.5 L493.4,744.5 L493.5,742.5 L493.7,740.6 L493.8,738.6 L493.9,736.6 L494.0,734.6 L494.1,732.6 L494.2,730.6 L494.4,728.6 L494.5,726.6 L494.6,724.6 L494.7,722.6 L494.8,720.6 L494.9,718.6 L495.0,716.6 L495.2,714.6 L495.3,712.6 L495.4,710.6 L495.5,708.6 L495.6,706.6 L495.7,704.6 L495.9,702.6 L496.0,700.6 L496.1,698.6 L496.2,696.6 L496.3,694.6 L496.4,692.6 L496.5,690.6 L496.7,688.6 L496.8,686.6 L496.9,684.6 L497.0,682.6 L497.1,680.6 L497.2,678.6 L497.4,676.6 L497.5,674.6 L497.6,672.6 L497.7,670.6 L497.8,668.6 L497.9,666.6 L498.0,664.6 L498.2,662.6 L498.3,660.6 L498.4,658.6 L498.5,656.7 L498.6,654.7 L498.7,652.7 L498.9,650.7 L499.0,648.7 L499.1,646.7 L499.2,644.7 L499.3,642.7 L499.5,640.7 L499.6,638.7 L499.7,636.7 L499.8,634.7 L499.9,632.7 L500.0,630.7 L500.2,628.7 L500.3,626.7 L500.4,624.7 L500.5,622.7 L500.6,620.7 L500.8,618.7 L500.9,616.7 L501.0,614.7 L501.1,612.7 L501.3,610.7 L501.4,608.7 L501.5,606.7 L501.6,604.7 L501.8,602.7 L501.9,600.7 L502.0,598.7 L502.1,596.8 L502.3,594.8 L502.4,592.8 L502.5,590.8 L502.6,588.8 L502.8,586.8 L502.9,584.8 L503.0,582.8 L503.1,580.8 L503.3,578.8 L503.4,576.8 L503.5,574.8 L503.7,572.8 L503.8,570.8 L503.9,568.8 L504.1,566.8 L504.2,564.8 L504.3,562.8 L504.5,560.8 L504.6,558.8 L504.7,556.9 L504.9,554.9 L505.0,552.9 L505.1,550.9 L505.3,548.9 L505.4,546.9 L505.5,544.9 L505.7,542.9 L505.8,540.9 L506.0,538.9 L506.1,536.9 L506.2,534.9 L506.4,532.9 L506.5,530.9 L506.7,528.9 L506.8,527.0 L507.0,525.0 L507.1,523.0 L507.2,521.0 L507.4,519.0 L507.5,517.0 L507.7,515.0 L507.8,513.0 L508.0,511.0 L508.1,509.0 L508.3,507.0 L508.4,505.0 L508.6,503.0 L508.7,501.1 L508.9,499.1 L509.0,497.1 L509.2,495.1 L509.4,493.1 L509.5,491.1 L509.7,489.1 L509.8,487.1 L510.0,485.1 L510.2,483.1 L510.3,481.1 L510.5,479.2 L510.6,477.2 L510.8,475.2 L511.0,473.2 L511.1,471.2 L511.3,469.2 L511.5,467.2 L511.6,465.2 L511.8,463.2 L512.0,461.3 L512.1,459.3 L512.3,457.3 L512.5,455.3 L512.7,453.3 L512.8,451.3 L513.0,449.3 L513.2,447.3 L513.4,445.3 L513.5,443.4 L513.7,441.4 L513.9,439.4 L514.1,437.4 L514.3,435.4 L514.5,433.4 L514.6,431.4 L514.8,429.5 L515.0,427.5 L515.2,425.5 L515.4,423.5 L515.6,421.5 L515.8,419.5 L516.0,417.5 L516.2,415.6 L516.3,413.6 L516.5,411.6 L516.7,409.6 L516.9,407.6 L517.1,405.6 L517.3,403.6 L517.5,401.7 L517.7,399.7 L517.9,397.7 L518.1,395.7 L518.4,393.7 L518.6,391.7 L518.8,389.8 L519.0,387.8 L519.2,385.8 L519.4,383.8 L519.6,381.8 L519.8,379.8 L520.0,377.9 L520.3,375.9 L520.5,373.9 L520.7,371.9 L520.9,369.9 L521.1,368.0 L521.4,366.0 L521.6,364.0 L521.8,362.0 L522.1,360.0 L522.3,358.1 L522.5,356.1 L522.8,354.1 L523.0,352.1 L523.2,350.1 L523.5,348.2 L523.7,346.2 L524.0,344.2 L524.2,342.2 L524.5,340.2 L524.7,338.3 L525.0,336.3 L525.3,334.3 L525.5,332.3 L525.8,330.4 L526.1,328.4 L526.3,326.4 L526.6,324.4 L526.9,322.5 L527.2,320.5 L527.5,318.5 L527.8,316.5 L528.1,314.5 L528.4,312.6 L528.7,310.6 L529.0,308.6 L529.3,306.7 L529.6,304.7 L529.9,302.7 L530.3,300.7 L530.6,298.8 L530.9,296.8 L531.3,294.8 L531.6,292.8 L532.0,290.9 L532.3,288.9 L532.7,286.9 L533.0,285.0 L533.4,283.0 L533.8,281.0 L534.1,279.1 L534.5,277.1 L534.9,275.1 L535.3,273.1 L535.7,271.2 L536.1,269.2 L536.5,267.2 L536.9,265.3 L537.4,263.3 L537.8,261.3 L538.2,259.4 L538.7,257.4 L539.1,255.4 L539.6,253.5 L540.0,251.5 L540.5,249.6 L541.0,247.6 L541.4,245.6 L541.9,243.7 L542.4,241.7 L542.9,239.7 L543.4,237.8 L543.9,235.8 L544.5,233.9 L545.0,231.9 L545.5,229.9 L546.1,228.0 L546.6,226.0 L547.2,224.0 L547.7,222.1 L548.3,220.1 L549.0,218.0 L549.7,215.9 L550.4,213.8 L551.1,211.7 L552.0,209.8 L552.9,208.3 L553.8,207.5 L554.9,207.6 L555.9,208.5 L557.0,209.9 L558.1,211.8 L559.1,213.9 L560.0,216.0 L560.7,218.0 L561.4,220.1 L562.0,222.1 L562.6,224.1 L563.1,226.0 L563.6,228.0 L564.1,230.0 L564.6,232.0 L565.1,234.0 L565.5,235.9 L566.0,237.9 L566.4,239.9 L566.9,241.9 L567.3,243.8 L567.8,245.8 L568.2,247.8 L568.6,249.8 L569.0,251.7 L569.4,253.7 L569.8,255.7 L570.2,257.7 L570.6,259.6 L571.0,261.6 L571.3,263.6 L571.7,265.6 L572.1,267.5 L572.4,269.5 L572.8,271.5 L573.1,273.5 L573.5,275.4 L573.8,277.4 L574.1,279.4 L574.4,281.4 L574.7,283.4 L575.1,285.3 L575.4,287.3 L575.7,289.3 L576.0,291.3 L576.3,293.2 L576.5,295.2 L576.8,297.2 L577.1,299.2 L577.4,301.1 L577.6,303.1 L577.9,305.1 L578.2,307.1 L578.4,309.1 L578.7,311.0 L578.9,313.0 L579.2,315.0 L579.4,317.0 L579.7,318.9 L579.9,320.9 L580.1,322.9 L580.4,324.9 L580.6,326.9 L580.8,328.8 L581.0,330.8 L581.2,332.8 L581.5,334.8 L581.7,336.8 L581.9,338.7 L582.1,340.7 L582.3,342.7 L582.5,344.7 L582.7,346.7 L582.9,348.6 L583.1,350.6 L583.3,352.6 L583.5,354.6 L583.7,356.6 L583.9,358.5 L584.0,360.5 L584.2,362.5 L584.4,364.5 L584.6,366.5 L584.8,368.5 L585.0,370.4 L585.1,372.4 L585.3,374.4 L585.5,376.4 L585.7,378.4 L585.9,380.4 L586.0,382.3 L586.2,384.3 L586.4,386.3 L586.6,388.3 L586.8,390.3 L586.9,392.3 L587.1,394.3 L587.3,396.2 L587.5,398.2 L587.6,400.2 L587.8,402.2 L588.0,404.2 L588.2,406.2 L588.3,408.2 L588.5,410.2 L588.7,412.2 L588.9,414.1 L589.0,416.1 L589.2,418.1 L589.4,420.1 L589.5,422.1 L589.7,424.1 L589.9,426.1 L590.1,428.1 L590.2,430.1 L590.4,432.1 L590.6,434.0 L590.7,436.0 L590.9,438.0 L591.1,440.0 L591.2,442.0 L591.4,444.0 L591.6,446.0 L591.7,448.0 L591.9,450.0 L592.1,452.0 L592.2,454.0 L592.4,456.0 L592.6,457.9 L592.7,459.9 L592.9,461.9 L593.0,463.9 L593.2,465.9 L593.4,467.9 L593.5,469.9 L593.7,471.9 L593.9,473.9 L594.0,475.9 L594.2,477.9 L594.3,479.9 L594.5,481.9 L594.7,483.9 L594.8,485.9 L595.0,487.9 L595.1,489.8 L595.3,491.8 L595.4,493.8 L595.6,495.8 L595.8,497.8 L595.9,499.8 L596.1,501.8 L596.2,503.8 L596.4,505.8 L596.5,507.8 L596.7,509.8 L596.8,511.8 L597.0,513.8 L597.2,515.8 L597.3,517.8 L597.5,519.8 L597.6,521.8 L597.8,523.8 L597.9,525.8 L598.1,527.8 L598.2,529.7 L598.4,531.7 L598.5,533.7 L598.7,535.7 L598.8,537.7 L599.0,539.7 L599.1,541.7 L599.3,543.7 L599.4,545.7 L599.6,547.7 L599.7,549.7 L599.9,551.7 L600.0,553.7 L600.2,555.7 L600.3,557.7 L600.4,559.7 L600.6,561.7 L600.7,563.7 L600.9,565.7 L601.0,567.7 L601.2,569.7 L601.3,571.7 L601.5,573.6 L601.6,575.6 L601.8,577.6 L601.9,579.6 L602.0,581.6 L602.2,583.6 L602.3,585.6 L602.5,587.6 L602.6,589.6 L602.8,591.6 L602.9,593.6 L603.0,595.6 L603.2,597.6 L603.3,599.6 L603.5,601.6 L603.6,603.6 L603.7,605.6 L603.9,607.6 L604.0,609.6 L604.2,611.6 L604.3,613.6 L604.4,615.6 L604.6,617.6 L604.7,619.5 L604.9,621.5 L605.0,623.5 L605.1,625.5 L605.3,627.5 L605.4,629.5 L605.6,631.5 L605.7,633.5 L605.8,635.5 L606.0,637.5 L606.1,639.5 L606.2,641.5 L606.4,643.5 L606.5,645.5 L606.7,647.5 L606.8,649.5 L606.9,651.5 L607.1,653.5 L607.2,655.5 L607.3,657.5 L607.5,659.5 L607.6,661.5 L607.8,663.5 L607.9,665.5 L608.0,667.4 L608.2,669.4 L608.3,671.4 L608.4,673.4 L608.6,675.4 L608.7,677.4 L608.8,679.4 L609.0,681.4 L609.1,683.4 L609.2,685.4 L609.4,687.4 L609.5,689.4 L609.6,691.4 L609.8,693.4 L609.9,695.4 L610.1,697.4 L610.2,699.4 L610.3,701.4 L610.5,703.4 L610.6,705.4 L610.7,707.4 L610.9,709.4 L611.0,711.4 L611.1,713.3 L611.3,715.3 L611.4,717.3 L611.5,719.3 L611.7,721.3 L611.8,723.3 L611.9,725.3 L612.1,727.3 L612.2,729.3 L612.3,731.3 L612.5,733.3 L612.6,735.3 L612.7,737.3 L612.9,739.3 L613.0,741.3 L613.1,743.3 L613.3,745.3 L613.4,747.3 L613.6,749.3 L613.7,751.3 L613.8,753.3 L614.0,755.3 L614.1,757.2 L614.2,759.2 L614.4,761.2 L614.5,763.2 L614.6,765.2 L614.8,767.2 L614.9,769.2 L615.0,771.2 L615.2,773.2 L615.3,775.2 L615.4,777.2 L615.6,779.2 L615.7,781.2 L615.9,783.2 L616.0,785.2 L616.1,787.2 L616.3,789.2 L616.4,791.2 L616.5,793.2 L616.7,795.1 L616.8,797.1 L616.9,799.1 L617.1,801.1 L617.2,803.1 L617.4,805.1 L617.5,807.1 L617.6,809.1 L617.8,811.1 L617.9,813.1 L618.0,815.1 L618.2,817.1 L618.3,819.1 L618.5,821.1 L618.6,823.1 L618.7,825.1 L618.9,827.1 L619.0,829.1 L619.2,831.0 L619.3,833.0 L619.4,835.0 L619.6,837.0 L619.7,839.0 L619.8,841.0 L620.0,843.0 L620.1,845.0 L620.3,847.0 L620.4,849.0 L620.6,851.0 L620.7,853.0 L620.8,855.0 L621.0,857.0 L621.1,859.0 L621.3,861.0 L621.4,862.9 L621.5,864.9 L621.7,866.9 L621.8,868.9 L622.0,870.9 L622.1,872.9 L622.3,874.9 L622.4,876.9 L622.6,878.9 L622.7,880.9 L622.8,882.9 L623.0,884.9 L623.1,886.9 L623.3,888.9 L623.4,890.9 L623.6,892.8 L623.7,894.8 L623.9,896.8 L624.0,898.8 L624.2,900.8 L624.3,902.8 L624.5,904.8 L624.6,906.8 L624.7,908.8 L624.9,910.8 L625.0,912.8 L625.2,914.8 L625.3,916.8 L625.5,918.7 L625.6,920.7 L625.8,922.7 L625.9,924.7 L626.1,926.7 L626.3,928.7 L626.4,930.7 L626.6,932.7 L626.7,934.7 L626.9,936.7 L627.0,938.7 L627.2,940.7 L627.3,942.6 L627.5,944.6 L627.6,946.6 L627.8,948.6 L627.9,950.6 L628.1,952.6 L628.3,954.6 L628.4,956.6 L628.6,958.6 L628.7,960.6 L628.9,962.6 L629.0,964.5 L629.2,966.5 L629.4,968.5 L629.5,970.5 L629.7,972.5 L629.8,974.5 L630.0,976.5 L630.2,978.5 L630.3,980.5 L630.5,982.5 L630.7,984.5 L630.8,986.4 L631.0,988.4 L631.1,990.4 L631.3,992.4 L631.5,994.4 L631.6,996.4 L631.8,998.4 L632.0,1000.4 L632.1,1002.4 L632.3,1004.4 L632.5,1006.3 L632.6,1008.3 L632.8,1010.3 L633.0,1012.3 L633.1,1014.3 L633.3,1016.3 L633.5,1018.3 L633.6,1020.3 L633.8,1022.3 L634.0,1024.3 L634.2,1026.2 L634.3,1028.2 L634.5,1030.2 L634.7,1032.2 L634.8,1034.2 L635.0,1036.2 L635.2,1038.2 L635.4,1040.2 L635.5,1042.2 L635.7,1044.2 L635.9,1046.1 L636.1,1048.1 L636.2,1050.1 L636.4,1052.1 L636.6,1054.1 L636.8,1056.1 L636.9,1058.1 L637.1,1060.1 L637.3,1062.1 L637.5,1064.1 L637.7,1066.1 L637.8,1068.0 L638.0,1070.0 L638.2,1072.0 L638.4,1074.0 L638.6,1076.0 L638.7,1078.0 L638.9,1080.0 L639.1,1082.0 L639.3,1084.0 L639.5,1086.0 L639.7,1087.9 L639.8,1089.9 L640.0,1091.9 L640.2,1093.9 L640.4,1095.9 L640.6,1097.9 L640.8,1099.9 L641.0,1101.9 L641.1,1103.9 L641.3,1105.9 L641.5,1107.9 L641.7,1109.8 L641.9,1111.8 L642.1,1113.8 L642.3,1115.8 L642.5,1117.8 L642.7,1119.8 L642.9,1121.8 L643.0,1123.8 L643.2,1125.8 L643.4,1127.8 L643.6,1129.8 L643.8,1131.8 L644.0,1133.7 L644.2,1135.7 L644.4,1137.7 L644.6,1139.7 L644.8,1141.7 L645.0,1143.7 L645.2,1145.7 L645.4,1147.7 L645.6,1149.7 L645.8,1151.7 L646.0,1153.7 L646.2,1155.7 L646.4,1157.7 L646.6,1159.6 L646.8,1161.6 L647.0,1163.6 L647.2,1165.6 L647.4,1167.6 L647.6,1169.6 L647.8,1171.6 L648.0,1173.6 L648.2,1175.6 L648.4,1177.6 L648.6,1179.6 L648.8,1181.6 L649.0,1183.6 L649.2,1185.6 L649.4,1187.6 L649.6,1189.6 L649.9,1191.5 L650.1,1193.5 L650.3,1195.5 L650.5,1197.5 L650.7,1199.5 L650.9,1201.5 L651.1,1203.5 L651.3,1205.5 L651.5,1207.5 L651.8,1209.5 L652.0,1211.5 L652.2,1213.5 L652.4,1215.5 L652.6,1217.5 L652.8,1219.5 L653.0,1221.5 L653.3,1223.5 L653.5,1225.5 L653.7,1227.5 L653.9,1229.4 L654.1,1231.4 L654.4,1233.4 L654.6,1235.4 L654.8,1237.4 L655.0,1239.4 L655.3,1241.4 L655.5,1243.4 L655.7,1245.4 L655.9,1247.4 L656.2,1249.4 L656.4,1251.4 L656.6,1253.4 L656.9,1255.4 L657.1,1257.3 L657.3,1259.3 L657.6,1261.3 L657.8,1263.3 L658.0,1265.3 L658.3,1267.3 L658.5,1269.3 L658.7,1271.3 L659.0,1273.3 L659.2,1275.3 L659.5,1277.2 L659.7,1279.2 L659.9,1281.2 L660.2,1283.2 L660.4,1285.2 L660.7,1287.2 L660.9,1289.2 L661.2,1291.1 L661.4,1293.1 L661.7,1295.1 L661.9,1297.1 L662.2,1299.1 L662.4,1301.1 L662.7,1303.0 L663.0,1305.0 L663.2,1307.0 L663.5,1309.0 L663.7,1311.0 L664.0,1312.9 L664.3,1314.9 L664.5,1316.9 L664.8,1318.9 L665.1,1320.8 L665.3,1322.8 L665.6,1324.8 L665.9,1326.8 L666.1,1328.7 L666.4,1330.7 L666.7,1332.7 L667.0,1334.7 L667.2,1336.6 L667.5,1338.6 L667.8,1340.6 L668.1,1342.5 L668.4,1344.5 L668.6,1346.5 L668.9,1348.4 L669.2,1350.4 L669.5,1352.4 L669.8,1354.3 L670.1,1356.3 L670.4,1358.2 L670.7,1360.2 L671.0,1362.2 L671.3,1364.1 L671.6,1366.1 L671.9,1368.0 L672.2,1370.0 L672.5,1372.0 L672.8,1373.9 L673.1,1375.9 L673.4,1377.8 L673.8,1379.8 L674.1,1381.7 L674.4,1383.7 L674.7,1385.6 L675.1,1387.6 L675.4,1389.5 L675.8,1391.5 L676.1,1393.4 L676.5,1395.3 L676.8,1397.3 L677.2,1399.2 L677.5,1401.2 L677.9,1403.1 L678.3,1405.1 L678.7,1407.0 L679.1,1408.9 L679.5,1410.9 L679.9,1412.8 L680.3,1414.8 L680.7,1416.7 L681.1,1418.6 L681.5,1420.6 L682.0,1422.5 L682.4,1424.4 L682.9,1426.4 L683.3,1428.3 L683.8,1430.2 L684.3,1432.2 L684.8,1434.1 L685.3,1436.0 L685.8,1438.0 L686.3,1439.9 L686.8,1441.8 L687.3,1443.7 L687.9,1445.7 L688.4,1447.6 L689.0,1449.5 L689.6,1451.4 L690.1,1453.4 L690.7,1455.3 L691.3,1457.2 L691.9,1459.1 L692.6,1461.1 L693.2,1463.0 L693.8,1464.9 L694.5,1466.8 L695.2,1468.7 L695.8,1470.7 L696.5,1472.6 L697.2,1474.5 L698.0,1476.4 L698.7,1478.3 L699.4,1480.3 L700.2,1482.2 L701.0,1484.1 L701.7,1486.0 L702.5,1487.9 L703.4,1489.8 L704.2,1491.8 L705.0,1493.7 L705.9,1495.6 L706.7,1497.5 L707.6,1499.4 L708.5,1501.3 L709.4,1503.2 L710.4,1505.1 L711.3,1506.9 L712.3,1508.8 L713.2,1510.7 L714.2,1512.5 L715.3,1514.3 L716.3,1516.1 L717.3,1517.9 L718.4,1519.7 L719.5,1521.4 L720.6,1523.2 L721.7,1524.9 L722.8,1526.6 L724.0,1528.2 L725.2,1529.9 L726.4,1531.5 L727.6,1533.1 L728.8,1534.6 L730.1,1536.1 L731.4,1537.6 L732.7,1539.1 L734.0,1540.5 L735.3,1541.9 L736.7,1543.2 L738.1,1544.5 L739.5,1545.8 L740.9,1547.0 L742.4,1548.2 L743.9,1549.4 L745.4,1550.5 L746.9,1551.6 L748.4,1552.6 L750.0,1553.6 L751.6,1554.6 L753.2,1555.5 L754.8,1556.4 L756.4,1557.3 L758.1,1558.2 L759.7,1559.0 L761.4,1559.7 L763.1,1560.5 L764.8,1561.2 L766.6,1561.9 L768.3,1562.5 L770.1,1563.1 L771.9,1563.7 L773.7,1564.3 L775.5,1564.9 L777.3,1565.4 L779.2,1565.9 L781.0,1566.3 L782.9,1566.8 L784.8,1567.2 L786.7,1567.6 L788.6,1568.0 L790.5,1568.3 L792.4,1568.7 L794.3,1569.0 L796.3,1569.3 L798.2,1569.5 L800.2,1569.8 L802.2,1570.0 L804.2,1570.3 L806.2,1570.5 L808.2,1570.7 L810.2,1570.8 L812.2,1571.0 L814.2,1571.1 L816.2,1571.3 L818.2,1571.4 L820.3,1571.5 L822.3,1571.6 L824.4,1571.7 L826.4,1571.8 L828.5,1571.8 L830.5,1571.9 L832.6,1571.9 L834.7,1572.0 L836.7,1572.0 L838.8,1572.1 L840.9,1572.1 L842.9,1572.1 L845.0,1572.1 L847.1,1572.1 L849.1,1572.1 L851.2,1572.1 L853.3,1572.1 L855.4,1572.1 L857.4,1572.1 L859.5,1572.1 L861.6,1572.2 L863.6,1572.2 L865.7,1572.2 L867.7,1572.2 L869.8,1572.2 L871.9,1572.2 L873.9,1572.2 L876.0,1572.2 L878.0,1572.2 L880.1,1572.2 L882.1,1572.2 L884.2,1572.2 L886.2,1572.2 L888.2,1572.2 L890.3,1572.2 L892.3,1572.2 L894.4,1572.2 L896.4,1572.2 L898.4,1572.2 L900.5,1572.2 L902.5,1572.3 L904.5,1572.3 L906.6,1572.3 L908.6,1572.3 L910.6,1572.3 L912.6,1572.3 L914.7,1572.3 L916.7,1572.3 L918.7,1572.3 L920.7,1572.3 L922.7,1572.3 L924.8,1572.4 L926.8,1572.4 L928.8,1572.4 L930.8,1572.4 L932.8,1572.4 L934.8,1572.4 L936.8,1572.4 L938.8,1572.4 L940.8,1572.4 L942.8,1572.4 L944.9,1572.5 L946.9,1572.5 L948.9,1572.5 L950.9,1572.5 L952.9,1572.5 L954.9,1572.5 L956.9,1572.5 L958.9,1572.5 L960.9,1572.5 L962.9,1572.6 L964.9,1572.6 L966.9,1572.6 L968.8,1572.6 L970.8,1572.6 L972.8,1572.6 L974.8,1572.6 L976.8,1572.6 L978.8,1572.6 L980.8,1572.7 L982.8,1572.7 L984.8,1572.7 L986.8,1572.7 L988.8,1572.7 L990.8,1572.7 L992.7,1572.7 L994.7,1572.7 L996.7,1572.8 L998.7,1572.8 L1000.7,1572.8 L1002.7,1572.8 L1004.7,1572.8 L1006.6,1572.8 L1008.6,1572.8 L1010.6,1572.8 L1012.6,1572.8 L1014.6,1572.9 L1016.6,1572.9 L1018.6,1572.9 L1020.5,1572.9 L1022.5,1572.9 L1024.5,1572.9 L1026.5,1572.9 L1028.5,1572.9 L1030.5,1573.0 L1032.4,1573.0 L1034.4,1573.0 L1036.4,1573.0 L1038.4,1573.0 L1040.4,1573.0 L1042.4,1573.0 L1044.4,1573.0 L1046.3,1573.0 L1048.3,1573.0 L1050.3,1573.1 L1052.3,1573.1 L1054.3,1573.1 L1056.3,1573.1 L1058.3,1573.1 L1060.2,1573.1 L1062.2,1573.1 L1064.2,1573.1 L1066.2,1573.1 L1068.2,1573.1 L1070.2,1573.2 L1072.2,1573.2 L1074.2,1573.2 L1076.1,1573.2 L1078.1,1573.2 L1080.1,1573.2 L1082.1,1573.2 L1084.1,1573.2 L1086.1,1573.2 L1088.1,1573.2 L1090.1,1573.2 L1092.1,1573.2 L1094.1,1573.2 L1096.0,1573.3 L1098.0,1573.3 L1100.0,1573.3 L1102.0,1573.3 L1104.0,1573.3 L1106.0,1573.3 L1108.0,1573.3 L1110.0,1573.3 L1112.0,1573.3 L1114.0,1573.3 L1116.0,1573.3 L1118.0,1573.3 L1120.0,1573.3 L1122.0,1573.3 L1124.0,1573.3 L1126.0,1573.3 L1127.9,1573.4 L1129.9,1573.4 L1131.9,1573.4 L1133.9,1573.4 L1135.9,1573.4 L1137.9,1573.4 L1139.9,1573.4 L1141.9,1573.4 L1143.9,1573.4 L1145.9,1573.4 L1147.9,1573.4 L1149.9,1573.4 L1151.9,1573.4 L1153.9,1573.4 L1155.9,1573.4 L1157.9,1573.4 L1159.9,1573.4 L1161.9,1573.4 L1163.9,1573.4 L1165.9,1573.4 L1167.9,1573.4 L1169.9,1573.4 L1171.9,1573.4 L1173.9,1573.4 L1175.9,1573.4 L1177.9,1573.4 L1179.9,1573.5 L1181.9,1573.5 L1183.9,1573.5 L1185.9,1573.5 L1187.9,1573.5 L1189.9,1573.5 L1191.9,1573.5 L1193.9,1573.5 L1195.9,1573.5 L1197.9,1573.5 L1199.9,1573.5 L1201.9,1573.5 L1203.9,1573.5 L1205.9,1573.5 L1207.9,1573.5 L1209.9,1573.5 L1211.9,1573.5 L1213.9,1573.5 L1215.9,1573.5 L1217.9,1573.5 L1219.9,1573.5 L1221.9,1573.5 L1223.9,1573.5 L1225.9,1573.5 L1227.9,1573.5 L1229.9,1573.5 L1231.9,1573.5 L1233.9,1573.5 L1236.0,1573.5 L1238.0,1573.5 L1240.0,1573.5 L1242.0,1573.5 L1244.0,1573.5 L1246.0,1573.5 L1248.0,1573.5 L1250.0,1573.5 L1252.0,1573.5 L1254.0,1573.5 L1256.0,1573.5 L1258.0,1573.5 L1260.0,1573.5 L1262.0,1573.5 L1264.0,1573.5 L1266.0,1573.5 L1268.0,1573.5 L1270.0,1573.5 L1272.0,1573.5 L1274.0,1573.5 L1276.0,1573.5 L1278.0,1573.5 L1280.0,1573.5 L1282.0,1573.5 L1284.1,1573.5 L1286.1,1573.5 L1288.1,1573.5 L1290.1,1573.5 L1292.1,1573.5 L1294.1,1573.5 L1296.1,1573.5 L1298.1,1573.5 L1300.1,1573.5 L1302.1,1573.5 L1304.1,1573.5 L1306.1,1573.5 L1308.1,1573.5 L1310.1,1573.5 L1312.1,1573.5 L1314.1,1573.5 L1316.1,1573.5 L1318.1,1573.5 L1320.1,1573.5 L1322.1,1573.5 L1324.1,1573.5 L1326.2,1573.5 L1328.2,1573.5 L1330.2,1573.5 L1332.2,1573.5 L1334.2,1573.5 L1336.2,1573.5 L1338.2,1573.5 L1340.2,1573.5 L1342.2,1573.5 L1344.2,1573.5 L1346.2,1573.5 L1348.2,1573.5 L1350.2,1573.5 L1352.2,1573.5 L1354.2,1573.5 L1356.2,1573.5 L1358.2,1573.5 L1360.2,1573.5 L1362.2,1573.5 L1364.2,1573.5 L1366.2,1573.5 L1368.2,1573.5 L1370.2,1573.5 L1372.2,1573.5 L1374.3,1573.5 L1376.3,1573.5 L1378.3,1573.5 L1380.3,1573.5 L1382.3,1573.5 L1384.3,1573.4 L1386.3,1573.4 L1388.3,1573.4 L1390.3,1573.4 L1392.3,1573.4 L1394.3,1573.4 L1396.3,1573.4 L1398.3,1573.4 L1400.3,1573.4 L1402.3,1573.4 L1404.3,1573.4 L1406.3,1573.4 L1408.3,1573.4 L1410.3,1573.4 L1412.3,1573.4 L1414.3,1573.4 L1416.3,1573.4 L1418.3,1573.4 L1420.3,1573.4 L1422.3,1573.4 L1424.3,1573.4 L1426.3,1573.4 L1428.3,1573.4 L1430.3,1573.4 L1432.3,1573.4 L1434.3,1573.4 L1436.3,1573.4 L1438.3,1573.4 L1440.3,1573.4 L1442.3,1573.4 L1444.3,1573.4 L1446.3,1573.4 L1448.3,1573.4 L1450.3,1573.4 L1452.3,1573.4 L1454.3,1573.4 L1456.3,1573.4 L1458.3,1573.4 L1460.3,1573.4 L1462.3,1573.4 L1464.3,1573.4 L1466.3,1573.4 L1468.3,1573.4 L1470.3,1573.4 L1472.3,1573.4 L1474.3,1573.4 L1476.3,1573.4 L1478.2,1573.4 L1480.2,1573.4 L1482.2,1573.4 L1484.2,1573.4 L1486.2,1573.4 L1488.2,1573.4 L1490.2,1573.4 L1492.2,1573.4 L1494.2,1573.4 L1496.2,1573.4 L1498.2,1573.4 L1500.2,1573.4 L1502.2,1573.4 L1504.2,1573.4 L1506.2,1573.4 L1508.2,1573.4 L1510.2,1573.4 L1512.2,1573.4 L1514.1,1573.4 L1516.1,1573.4 L1518.1,1573.4 L1520.1,1573.4 L1522.1,1573.4 L1524.1,1573.4 L1526.1,1573.4 L1528.1,1573.4 L1530.1,1573.4 L1532.1,1573.4 L1534.1,1573.4 L1536.1,1573.4 L1538.1,1573.4 L1540.1,1573.4 L1542.1,1573.4 L1544.0,1573.5 L1546.0,1573.5 L1548.0,1573.5 L1550.0,1573.5 L1552.0,1573.5 L1554.0,1573.5 L1556.0,1573.5 L1558.0,1573.5 L1560.0,1573.5 L1562.0,1573.5 L1564.0,1573.5 L1566.0,1573.5 L1568.0,1573.5 L1570.0,1573.5 L1572.0,1573.5 L1574.0,1573.5 L1576.0,1573.5 L1577.9,1573.5 L1579.9,1573.5 L1581.9,1573.5 L1583.9,1573.5 L1585.9,1573.5 L1587.9,1573.5 L1589.9,1573.5 L1591.9,1573.5 L1593.9,1573.5 L1595.9,1573.5 L1597.9,1573.5 L1599.9,1573.5 L1601.9,1573.5 L1603.9,1573.5 L1605.9,1573.5 L1607.9,1573.5 L1609.9,1573.5 L1611.9,1573.5 L1613.9,1573.5 L1615.9,1573.5 L1617.9,1573.5 L1619.9,1573.5 L1621.9,1573.6 L1623.9,1573.6 L1625.9,1573.6 L1627.9,1573.6 L1629.9,1573.6 L1631.9,1573.6 L1633.9,1573.6 L1635.9,1573.6 L1637.9,1573.6 L1639.9,1573.6 L1641.9,1573.6 L1643.9,1573.6 L1645.9,1573.6 L1647.9,1573.6 L1650.0,1573.6 L1652.0,1573.6 L1654.0,1573.6 L1656.0,1573.6 L1658.0,1573.6 L1660.0,1573.6 L1662.0,1573.6 L1664.0,1573.6 L1666.0,1573.6 L1668.0,1573.6 L1670.0,1573.6 L1672.1,1573.7 L1674.1,1573.7 L1676.1,1573.7 L1678.1,1573.7 L1680.1,1573.7 L1682.1,1573.7 L1684.1,1573.7 L1686.1,1573.7 L1688.2,1573.7 L1690.2,1573.7 L1692.2,1573.7 L1694.2,1573.7 L1696.2,1573.6 L1698.2,1573.6 L1700.2,1573.6 L1702.2,1573.6 L1704.2,1573.5 L1706.2,1573.5 L1708.2,1573.5 L1710.2,1573.4 L1712.2,1573.4 L1714.2,1573.3 L1716.2,1573.2 L1718.2,1573.1 L1720.2,1573.1 L1722.2,1573.0 L1724.2,1572.8 L1726.1,1572.7 L1728.1,1572.6 L1730.1,1572.5 L1732.1,1572.3 L1734.0,1572.1 L1736.0,1572.0 L1737.9,1571.8 L1739.9,1571.6 L1741.8,1571.3 L1743.8,1571.1 L1745.7,1570.8 L1747.7,1570.6 L1749.6,1570.3 L1751.6,1569.9 L1753.5,1569.6 L1755.5,1569.2 L1757.4,1568.8 L1759.4,1568.4 L1761.3,1567.9 L1763.3,1567.4 L1765.2,1566.9 L1767.2,1566.3 L1769.1,1565.8 L1771.1,1565.2 L1773.0,1564.6 L1775.0,1564.0 L1777.0,1563.4 L1778.9,1562.8 L1780.9,1562.2 L1782.8,1561.6 L1784.8,1561.0 L1786.8,1560.4 L1788.7,1559.9 L1790.7,1559.3 L1792.7,1558.8 L1794.6,1558.3 L1796.6,1557.8 L1798.6,1557.4 L1800.5,1557.0 L1802.5,1556.6 L1804.4,1556.3 L1806.4,1556.0 L1808.4,1555.7 L1810.3,1555.5 L1812.3,1555.4 L1814.2,1555.3 L1816.2,1555.3 L1818.1,1555.3 L1820.1,1555.4 L1822.0,1555.6 L1824.0,1555.8 L1825.9,1556.0 L1827.9,1556.3 L1829.8,1556.7 L1831.8,1557.0 L1833.7,1557.4 L1835.6,1557.9 L1837.6,1558.3 L1839.5,1558.8 L1841.5,1559.4 L1843.4,1559.9 L1845.3,1560.4 L1847.3,1561.0 L1849.2,1561.6 L1851.2,1562.2 L1853.1,1562.7 L1855.1,1563.3 L1857.0,1563.9 L1859.0,1564.5 L1860.9,1565.1 L1862.8,1565.6 L1864.8,1566.2 L1866.8,1566.7 L1868.7,1567.2 L1870.7,1567.7 L1872.6,1568.1 L1874.6,1568.6 L1876.5,1569.0 L1878.5,1569.4 L1880.5,1569.7 L1882.5,1570.1 L1884.4,1570.4 L1886.4,1570.7 L1888.4,1571.0 L1890.3,1571.3 L1892.3,1571.5 L1894.3,1571.7 L1896.3,1572.0 L1898.3,1572.2 L1900.2,1572.3 L1902.2,1572.5 L1904.2,1572.7 L1906.2,1572.8 L1908.2,1572.9 L1910.2,1573.0 L1912.2,1573.1 L1914.2,1573.2 L1916.1,1573.3 L1918.1,1573.4 L1920.1,1573.4 L1922.1,1573.5 L1924.1,1573.5 L1926.1,1573.6 L1928.1,1573.6 L1930.1,1573.6 L1932.1,1573.6 L1934.1,1573.6 L1936.1,1573.6 L1938.1,1573.6 L1940.1,1573.6 L1942.1,1573.6 L1944.1,1573.6 L1946.1,1573.6 L1948.1,1573.6 L1950.1,1573.6 L1952.1,1573.6 L1954.1,1573.6 L1956.1,1573.5 L1958.1,1573.5 L1960.1,1573.5 L1962.1,1573.5 L1964.1,1573.5 L1966.1,1573.5 L1968.1,1573.5 L1970.1,1573.5 L1972.1,1573.5 L1974.1,1573.5 L1976.1,1573.5 L1978.1,1573.5 L1980.1,1573.4 L1982.1,1573.4 L1984.1,1573.4 L1986.1,1573.4 L1988.1,1573.4 L1990.1,1573.4 L1992.1,1573.4 L1994.1,1573.4 L1996.1,1573.4 L1998.1,1573.4 L2000.1,1573.4 L2002.1,1573.4 L2004.1,1573.4 L2006.1,1573.4 L2008.1,1573.4 L2010.1,1573.4 L2012.1,1573.3 L2014.1,1573.3 L2016.1,1573.3 L2018.1,1573.3 L2020.1,1573.3 L2022.1,1573.3 L2024.1,1573.3 L2026.1,1573.3 L2028.1,1573.3 L2030.1,1573.3 L2032.1,1573.3 L2034.1,1573.3 L2036.1,1573.3 L2038.1,1573.3 L2040.1,1573.3 L2042.1,1573.3 L2044.1,1573.3 L2046.1,1573.3 L2048.1,1573.3 L2050.1,1573.3 L2052.1,1573.3 L2054.1,1573.3 L2056.1,1573.3 L2058.1,1573.3 L2060.1,1573.3 L2062.1,1573.3 L2064.1,1573.3 L2066.1,1573.3 L2068.1,1573.3 L2070.1,1573.3 L2072.1,1573.3 L2074.1,1573.3 L2076.1,1573.3 L2078.1,1573.3 L2080.1,1573.3 L2082.1,1573.3 L2084.1,1573.3 L2086.1,1573.3 L2088.1,1573.3 L2090.1,1573.3 L2092.1,1573.3 L2094.1,1573.3 L2096.1,1573.3 L2098.1,1573.3 L2100.1,1573.3 L2102.1,1573.3 L2104.1,1573.3 L2106.1,1573.3 L2108.1,1573.3 L2110.1,1573.3 L2112.1,1573.3 L2114.1,1573.3 L2116.1,1573.3 L2118.1,1573.3 L2120.1,1573.3 L2122.1,1573.3 L2124.1,1573.3 L2126.1,1573.3 L2128.1,1573.3 L2130.1,1573.3 L2132.1,1573.3 L2134.1,1573.3 L2136.1,1573.3 L2138.1,1573.3 L2140.1,1573.3 L2142.1,1573.3 L2144.1,1573.3 L2146.1,1573.3 L2148.1,1573.3 L2150.1,1573.4 L2152.1,1573.4 L2154.1,1573.4 L2156.1,1573.4 L2158.1,1573.4 L2160.1,1573.4 L2162.1,1573.4 L2164.1,1573.4 L2166.1,1573.4 L2168.1,1573.4 L2170.1,1573.4 L2172.1,1573.4 L2174.1,1573.4 L2176.1,1573.4 L2178.1,1573.4 L2180.1,1573.4 L2182.1,1573.4 L2184.1,1573.4 L2186.1,1573.4 L2188.1,1573.4 L2190.0,1573.4 L2192.0,1573.4 L2194.0,1573.4 L2196.0,1573.4 L2198.0,1573.4 L2200.0,1573.4 L2202.0,1573.4 L2204.0,1573.4 L2206.0,1573.4 L2208.0,1573.4 L2210.0,1573.4 L2212.0,1573.4 L2214.0,1573.4 L2216.0,1573.5 L2218.0,1573.5 L2220.0,1573.5 L2222.0,1573.5 L2224.0,1573.5 L2226.0,1573.5 L2228.0,1573.5 L2230.0,1573.5 L2232.0,1573.5 L2234.0,1573.5 L2236.0,1573.5 L2238.0,1573.5 L2240.0,1573.5 L2242.0,1573.5 L2244.0,1573.5 L2246.0,1573.5 L2248.0,1573.5 L2250.0,1573.5 L2252.0,1573.5 L2254.0,1573.5 L2256.0,1573.5 L2258.0,1573.5 L2260.0,1573.5 L2262.0,1573.5 L2264.0,1573.5 L2266.0,1573.5 L2268.0,1573.5 L2270.0,1573.5 L2272.0,1573.5 L2274.0,1573.5 L2276.0,1573.5 L2278.0,1573.5 L2280.0,1573.5 L2282.0,1573.5 L2284.0,1573.5 L2286.0,1573.5 L2288.0,1573.5 L2290.0,1573.5 L2292.0,1573.5 L2294.0,1573.5 L2296.0,1573.5 L2298.0,1573.5 L2300.0,1573.5 L2302.0,1573.5 L2304.0,1573.5 L2306.0,1573.5 L2308.0,1573.5 L2310.0,1573.5 L2312.0,1573.5 L2314.0,1573.5 L2316.0,1573.5 L2318.0,1573.5 L2320.0,1573.5 L2322.0,1573.5 L2324.0,1573.5 L2326.0,1573.5 L2328.0,1573.5 L2330.0,1573.5 L2332.0,1573.5 L2334.0,1573.5 L2336.0,1573.5 L2338.0,1573.5 L2340.0,1573.5 L2342.0,1573.5 L2344.0,1573.5 L2346.0,1573.5 L2348.0,1573.5 L2350.0,1573.5 L2352.0,1573.5 L2354.0,1573.5 L2356.0,1573.5 L2358.0,1573.4 L2360.0,1573.4 L2362.0,1573.4 L2364.0,1573.4 L2366.0,1573.4 L2368.0,1573.4" fill="none" stroke="#0000FF" stroke-width="12" stroke-linecap="round" stroke-linejoin="round"/>
<text x="255" y="77.2" text-anchor="end" class="tk">2.0×10<tspan class="sup" dy="-16.5">6</tspan></text>
<text x="255" y="456.7" text-anchor="end" class="tk">1.5×10<tspan class="sup" dy="-16.5">6</tspan></text>
<text x="255" y="836.1" text-anchor="end" class="tk">1.0×10<tspan class="sup" dy="-16.5">6</tspan></text>
<text x="255" y="1215.5" text-anchor="end" class="tk">5.0×10<tspan class="sup" dy="-16.5">5</tspan></text>
<text x="255" y="1592.5" text-anchor="end" class="tk">0.0</text>
<text x="291.5" y="1653" text-anchor="middle" class="tk">400</text>
<text x="1214.4" y="1653" text-anchor="middle" class="tk">600</text>
<text x="2137.3" y="1653" text-anchor="middle" class="tk">800</text>
<text x="1330" y="1746" text-anchor="middle" class="ttl">Wavelength (nm)</text>
<text transform="translate(83.4,773.5) rotate(-90)" text-anchor="middle" class="ttl">Intensity (cps)</text>
<line x1="1668" y1="715.7" x2="1731" y2="715.7" stroke="#0000FF" stroke-width="11" stroke-linecap="round"/>
<text x="1764" y="738.8" class="lg">CdSe/ZnS</text>
<line x1="1668" y1="794" x2="1731" y2="794" stroke="#FF8000" stroke-width="11" stroke-linecap="round"/>
<text x="1764" y="816.3" class="lg">InP/ZnS</text>
<line x1="1668" y1="870.9" x2="1731" y2="870.9" stroke="#FF0000" stroke-width="11" stroke-linecap="round"/>
<text x="1764" y="893.9" class="lg">CuInS<tspan class="sub" dy="22">2</tspan><tspan dy="-22">/ZnS</tspan></text>
<line x1="1668" y1="960.2" x2="1731" y2="960.2" stroke="#00FFFF" stroke-width="11" stroke-linecap="round"/>
<text x="1764" y="983.2" class="lg">NCD</text>
</svg>
</div>
</body></html>
